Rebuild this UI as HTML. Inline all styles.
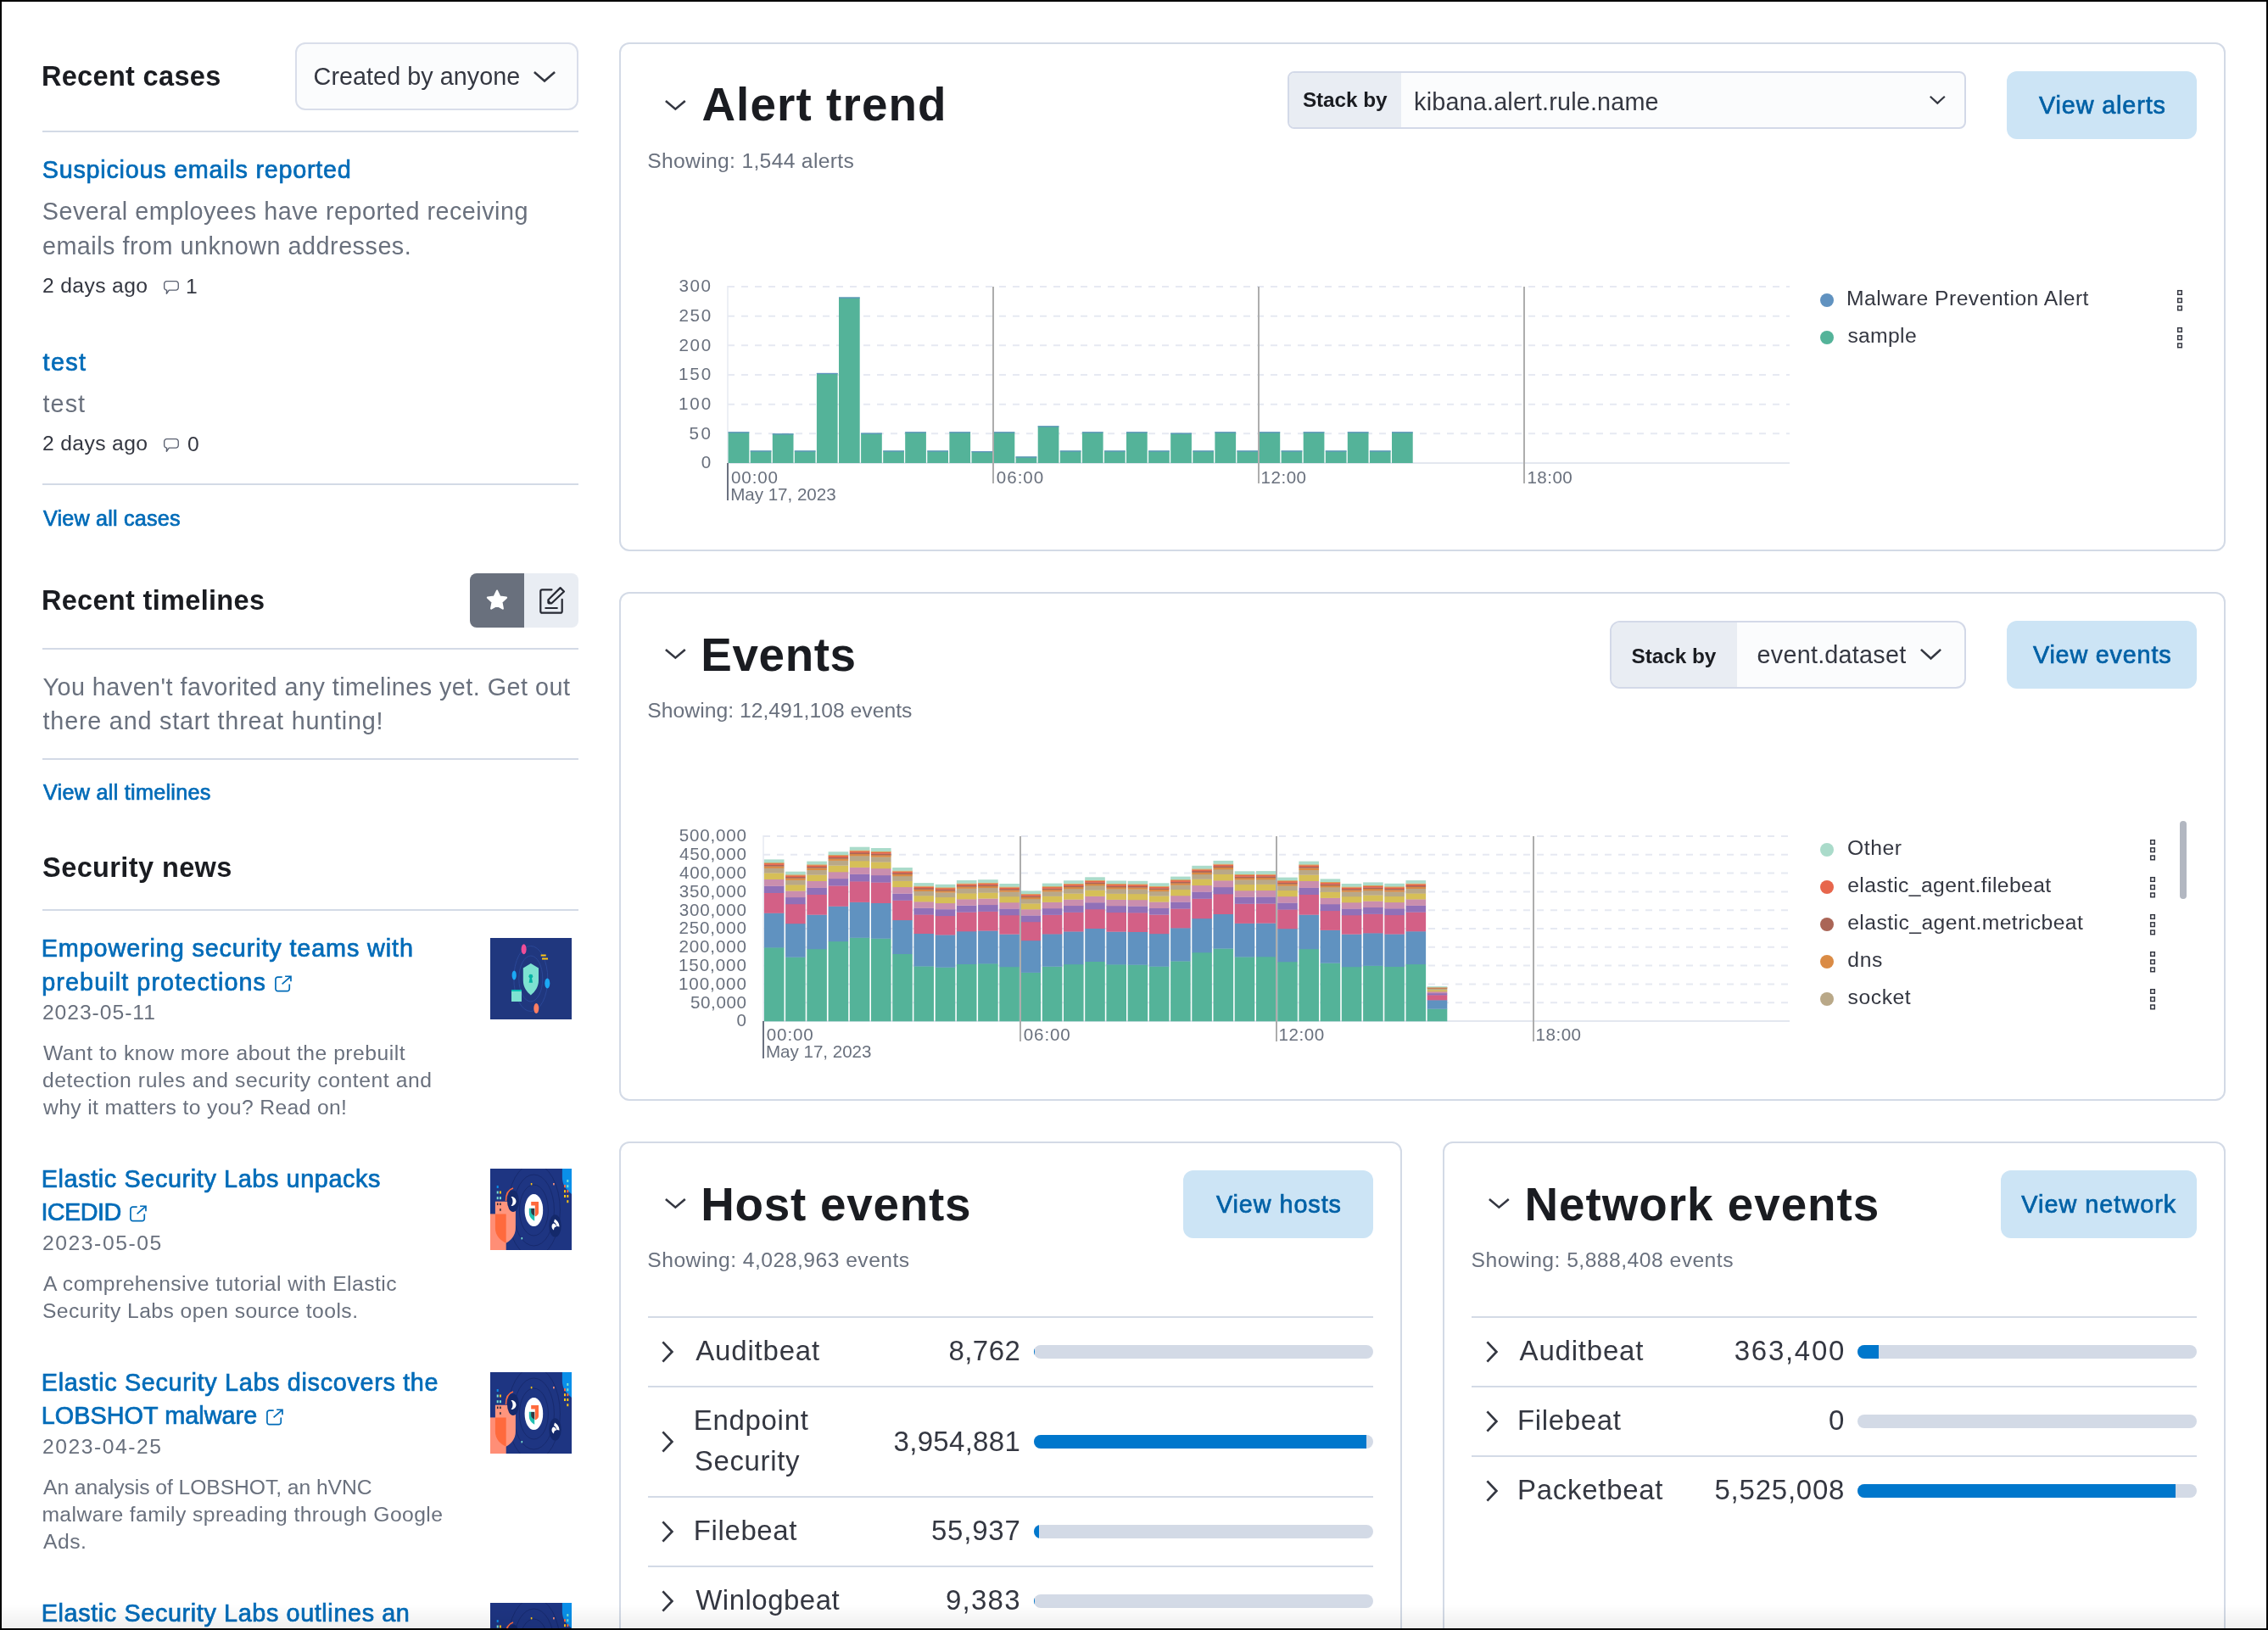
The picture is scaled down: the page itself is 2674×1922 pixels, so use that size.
<!DOCTYPE html>
<html lang="en"><head><meta charset="utf-8"><title>Security Overview</title>
<style>
html,body{margin:0;padding:0}
body{width:2674px;height:1922px;overflow:hidden;position:relative;background:#fff;font-family:"Liberation Sans",sans-serif;}
#root{position:absolute;left:0;top:0;width:2674px;height:1922px;will-change:transform}
.a{position:absolute;display:block}
.t{position:absolute;white-space:nowrap;line-height:1;display:block}
#frame{position:absolute;left:0;top:0;width:2674px;height:1922px;box-sizing:border-box;border:2px solid #000;z-index:10;pointer-events:none}
#fade{position:absolute;left:2px;top:1892px;width:2670px;height:28px;background:linear-gradient(to bottom,rgba(0,0,0,0),rgba(0,0,0,0.062));z-index:9}
</style></head>
<body>
<div id="root">
<span class="t" style="top:74px;font-size:32.5px;color:#1a1c21;font-weight:700;left:48.9px;letter-spacing:0.33px;">Recent cases</span>
<div class="a" style="left:348px;top:50px;width:334px;height:80px;box-sizing:border-box;border:2px solid #d9deea;border-radius:12px;background:#fbfcfd"></div>
<span class="t" style="top:76px;font-size:28.8px;color:#343741;left:369.6px;letter-spacing:0.02px;">Created by anyone</span>
<svg class="a" style="left:627px;top:81.6px" width="30" height="17" viewBox="0 0 30 17"><path d="M2.91 2.91L15 13.44L27.09 2.91" fill="none" stroke="#343741" stroke-width="2.6" stroke-linejoin="miter"/></svg>
<div class="a" style="left:50px;top:154px;width:632px;height:2px;background:#d3dae6;"></div>
<span class="t" style="top:186px;font-size:28.8px;color:#006bb8;-webkit-text-stroke:0.7px #006bb8;left:49.8px;letter-spacing:0.73px;">Suspicious emails reported</span>
<span class="t" style="top:235px;font-size:28.8px;color:#69707d;left:49.8px;letter-spacing:0.47px;">Several employees have reported receiving</span>
<span class="t" style="top:276px;font-size:28.8px;color:#69707d;left:49.9px;letter-spacing:0.48px;">emails from unknown addresses.</span>
<span class="t" style="top:325px;font-size:24.7px;color:#343741;left:49.9px;letter-spacing:0.37px;">2 days ago</span>
<svg class="a" style="left:192px;top:329.5px" width="20" height="18" viewBox="0 0 20 18"><path d="M4.650 1.550H15.250a3 3 0 0 1 3 3V9.050a3 3 0 0 1-3 3H7.300L4.300 16.300L4.700 12.050H4.650a3 3 0 0 1-3-3V4.550a3 3 0 0 1 3-3z" fill="none" stroke="#5a6070" stroke-width="1.350" stroke-linejoin="round"/></svg>
<span class="t" style="top:326px;font-size:24.7px;color:#343741;left:219.1px;">1</span>
<span class="t" style="top:413px;font-size:28.8px;color:#006bb8;-webkit-text-stroke:0.7px #006bb8;left:50.6px;letter-spacing:1.36px;">test</span>
<span class="t" style="top:462px;font-size:28.8px;color:#69707d;left:50.6px;letter-spacing:1.02px;">test</span>
<span class="t" style="top:511px;font-size:24.7px;color:#343741;left:49.9px;letter-spacing:0.37px;">2 days ago</span>
<svg class="a" style="left:192px;top:515.5px" width="20" height="18" viewBox="0 0 20 18"><path d="M4.650 1.550H15.250a3 3 0 0 1 3 3V9.050a3 3 0 0 1-3 3H7.300L4.300 16.300L4.700 12.050H4.650a3 3 0 0 1-3-3V4.550a3 3 0 0 1 3-3z" fill="none" stroke="#5a6070" stroke-width="1.350" stroke-linejoin="round"/></svg>
<span class="t" style="top:512px;font-size:24.7px;color:#343741;left:221.1px;">0</span>
<div class="a" style="left:50px;top:570px;width:632px;height:2px;background:#d3dae6;"></div>
<span class="t" style="top:599px;font-size:25.2px;color:#006bb8;-webkit-text-stroke:0.7px #006bb8;left:51.0px;letter-spacing:0.19px;">View all cases</span>
<span class="t" style="top:692px;font-size:32.5px;color:#1a1c21;font-weight:700;left:48.9px;letter-spacing:0.32px;">Recent timelines</span>
<div class="a" style="left:554px;top:676px;width:64px;height:64px;background:#69707d;border-radius:8px 0 0 8px;"></div>
<div class="a" style="left:618px;top:676px;width:64px;height:64px;background:#e9edf3;border-radius:0 8px 8px 0;"></div>
<svg class="a" style="left:570px;top:692px" width="32" height="32" viewBox="0 0 32 32"><path d="M16 4.6l3.35 7.0 7.7 1.0-5.65 5.35 1.45 7.65L16 21.9l-6.85 3.7 1.45-7.65L4.95 12.6l7.7-1.0z" fill="#fff" stroke="#fff" stroke-width="2.2" stroke-linejoin="round"/></svg>
<svg class="a" style="left:634px;top:690px" width="34" height="36" viewBox="0 0 34 36"><path d="M16.5 5.3H5.3a2 2 0 0 0-2 2v23.4a2 2 0 0 0 2 2h21.4a2 2 0 0 0 2-2V16.8" fill="none" stroke="#262933" stroke-width="2.2" stroke-linecap="round"/><path d="M9.3 27h13.5" stroke="#262933" stroke-width="2.2" stroke-linecap="round"/><path d="M26.6 3.1l4.4 4.4-14.6 13.8h-3.2a.8.8 0 0 1-.8-.8v-3.3z" fill="none" stroke="#262933" stroke-width="2.2" stroke-linejoin="round"/><path d="M12.8 17.6l3.4 3.4h-3.4z" fill="#262933"/></svg>
<div class="a" style="left:50px;top:764px;width:632px;height:2px;background:#d3dae6;"></div>
<span class="t" style="top:796px;font-size:28.8px;color:#69707d;left:50.4px;letter-spacing:0.46px;">You haven't favorited any timelines yet. Get out</span>
<span class="t" style="top:836px;font-size:28.8px;color:#69707d;left:50.6px;letter-spacing:0.77px;">there and start threat hunting!</span>
<div class="a" style="left:50px;top:894px;width:632px;height:2px;background:#d3dae6;"></div>
<span class="t" style="top:922px;font-size:25.2px;color:#006bb8;-webkit-text-stroke:0.7px #006bb8;left:51.0px;letter-spacing:0.27px;">View all timelines</span>
<span class="t" style="top:1007px;font-size:32.5px;color:#1a1c21;font-weight:700;left:50.1px;letter-spacing:0.39px;">Security news</span>
<div class="a" style="left:50px;top:1072px;width:632px;height:2px;background:#d3dae6;"></div>
<span class="t" style="top:1104px;font-size:28.8px;color:#006bb8;-webkit-text-stroke:0.7px #006bb8;left:48.8px;letter-spacing:0.87px;">Empowering security teams with</span>
<span class="t" style="top:1144px;font-size:28.8px;color:#006bb8;-webkit-text-stroke:0.7px #006bb8;left:49.2px;letter-spacing:1.08px;">prebuilt protections</span>
<svg class="a" style="left:323px;top:1148.5px" width="22" height="22" viewBox="0 0 22 22"><path d="M9.700 3.150H4.550a2.600 2.600 0 0 0-2.600 2.600V17.050a2.600 2.600 0 0 0 2.600 2.600H15.650a2.600 2.600 0 0 0 2.600-2.600V11.500" fill="none" stroke="#006bb8" stroke-width="1.700"/><path d="M9.600 11.400L19.500 2.700M13.100 2.250H19.950V8.300" fill="none" stroke="#006bb8" stroke-width="1.700"/></svg>
<span class="t" style="top:1182px;font-size:24.7px;color:#69707d;left:49.9px;letter-spacing:0.95px;">2023-05-11</span>
<span class="t" style="top:1230px;font-size:24.7px;color:#69707d;left:51.0px;letter-spacing:0.49px;">Want to know more about the prebuilt</span>
<span class="t" style="top:1262px;font-size:24.7px;color:#69707d;left:50.0px;letter-spacing:0.58px;">detection rules and security content and</span>
<span class="t" style="top:1294px;font-size:24.7px;color:#69707d;left:51.0px;letter-spacing:0.36px;">why it matters to you? Read on!</span>
<svg class="a" style="left:578px;top:1106px" width="96" height="96" viewBox="0 0 96 96"><rect width="96" height="96" fill="#20377e"/><ellipse cx="47.8" cy="48" rx="14" ry="27" fill="none" stroke="#2a4797" stroke-width="1"/><ellipse cx="47.8" cy="48" rx="20" ry="38.5" fill="none" stroke="#2a4797" stroke-width="1"/><path d="M47.8 29.9L57 35.5V50c0 8-4.5 13.5-9.2 17.4C43 63.500 38.800 58 38.800 50V35.500z" fill="#7de2d1"/><circle cx="47.800" cy="45.200" r="2.400" fill="#00b3a4"/><path d="M46.800 46.200h2l1.200 6.500h-4.400z" fill="#00b3a4"/><ellipse cx="39.600" cy="13.200" rx="3" ry="6" fill="#f04e98"/><ellipse cx="28.200" cy="43.900" rx="2.600" ry="5.500" fill="#1ba9f5"/><ellipse cx="67.300" cy="53.600" rx="3" ry="6" fill="#1ba9f5"/><ellipse cx="54.300" cy="83" rx="3" ry="6" fill="#ff7e62"/><rect x="25" y="61" width="12" height="14" fill="#7de2d1"/><rect x="25" y="61" width="12" height="2" fill="#00bfb3"/><rect x="59.700" y="19.500" width="6" height="2" fill="#fec514"/><rect x="61" y="23.500" width="7" height="2" fill="#fec514"/></svg>
<span class="t" style="top:1376px;font-size:28.8px;color:#006bb8;-webkit-text-stroke:0.7px #006bb8;left:48.8px;letter-spacing:0.61px;">Elastic Security Labs unpacks</span>
<span class="t" style="top:1415px;font-size:28.8px;color:#006bb8;-webkit-text-stroke:0.7px #006bb8;left:48.4px;letter-spacing:-0.56px;">ICEDID</span>
<svg class="a" style="left:152.4px;top:1420.1px" width="22" height="22" viewBox="0 0 22 22"><path d="M9.700 3.150H4.550a2.600 2.600 0 0 0-2.600 2.600V17.050a2.600 2.600 0 0 0 2.600 2.600H15.650a2.600 2.600 0 0 0 2.600-2.600V11.500" fill="none" stroke="#006bb8" stroke-width="1.700"/><path d="M9.600 11.400L19.500 2.700M13.100 2.250H19.950V8.300" fill="none" stroke="#006bb8" stroke-width="1.700"/></svg>
<span class="t" style="top:1454px;font-size:24.7px;color:#69707d;left:49.9px;letter-spacing:1.57px;">2023-05-05</span>
<span class="t" style="top:1502px;font-size:24.7px;color:#69707d;left:51.0px;letter-spacing:0.44px;">A comprehensive tutorial with Elastic</span>
<span class="t" style="top:1534px;font-size:24.7px;color:#69707d;left:49.9px;letter-spacing:0.45px;">Security Labs open source tools.</span>
<svg class="a" style="left:578px;top:1378px" width="96" height="96" viewBox="0 0 96 96"><rect width="96" height="96" fill="#1e3582"/><ellipse cx="51.400" cy="49" rx="17" ry="30" fill="none" stroke="#172a6e" stroke-width="1"/><ellipse cx="51.400" cy="49" rx="24" ry="42" fill="none" stroke="#172a6e" stroke-width="1"/><ellipse cx="51.400" cy="49" rx="31" ry="55" fill="none" stroke="#172a6e" stroke-width="1"/><path d="M84.900 0H96V30C90 25 84.900 20 84.900 10z" fill="#0a8fe9"/><rect x="0" y="53.400" width="18.700" height="42.600" fill="#ff8e76"/><path d="M5.900 38.700H29.900V70C29.900 79 24 85 18.700 87.800C12 85 5.900 79 5.900 70z" fill="#ff957d"/><path d="M5.900 53.400H18.700V87.800C12 85 5.900 79 5.900 70z" fill="#ff6a3d"/><path d="M18.500 38C18.500 30 22 24.500 27 23" fill="none" stroke="#ff6a3d" stroke-width="1.600"/><ellipse cx="27" cy="38.300" rx="7" ry="12.800" fill="#14296b"/><path d="M24.500 33c3 0 6 2 6 5.500s-3 5.500-6 5.500c1.500-2 2-3.500 2-5.500s-.500-3.500-2-5.500z" fill="#fff"/><ellipse cx="51.400" cy="49" rx="10.800" ry="19" fill="#fff"/><path d="M48.200 39H57V52c0 2-2 3.800-4.200 4.600V43.500H48.200z" fill="#ff6a3d"/><path d="M45.800 46.700h6.400V61.800C48 59.500 45.800 56 45.800 52z" fill="#1fbfb1"/><path d="M48.200 47h4V55.800C50 54.500 48.200 53 48.200 51z" fill="#343741"/><ellipse cx="76.500" cy="67.400" rx="7.200" ry="13.200" fill="#14296b"/><path d="M76 59.500c3 1.500 5.500 5 5.500 9l-3-.500c-.500-2.500-1.500-4-3.500-5zM74.500 64.500c2 .500 3.500 2 3.500 4-2 0-3 1.500-3 4-1.500-1-2.500-2.500-2.500-4.500s1-3 2-3.500z" fill="#fff"/><rect x="7.700" y="20" width="2" height="3" fill="#0a8fe9"/><rect x="7.700" y="26.500" width="2" height="3" fill="#7de2d1"/><rect x="10.900" y="26.500" width="2" height="3" fill="#fec514"/><rect x="7.700" y="33.200" width="2" height="3" fill="#7de2d1"/><rect x="10.900" y="33.200" width="2" height="3" fill="#7de2d1"/><rect x="7.900" y="40.500" width="1.600" height="2.600" fill="#2b2b3b"/><rect x="11.100" y="40.500" width="1.600" height="2.600" fill="#2b2b3b"/><rect x="11.100" y="47.200" width="1.600" height="2.600" fill="#2b2b3b"/><rect x="90.300" y="13" width="2" height="3" fill="#7de2d1"/><rect x="87" y="19.200" width="2" height="3" fill="#ff6a3d"/><rect x="90.300" y="19.200" width="2" height="3" fill="#7de2d1"/><rect x="87" y="25.200" width="2" height="3" fill="#fec514"/><rect x="90.300" y="25.200" width="2" height="3" fill="#ff6a3d"/><rect x="87" y="31" width="2" height="3" fill="#fec514"/><rect x="90.300" y="31" width="2" height="3" fill="#fec514"/><rect x="90.300" y="37.200" width="2" height="3" fill="#fec514"/><rect x="47.800" y="17" width="1.600" height="2.400" fill="#fec514"/><rect x="74.100" y="17" width="1.600" height="2.400" fill="#ff957d"/><rect x="36.500" y="81" width="1.600" height="2.400" fill="#7de2d1"/></svg>
<span class="t" style="top:1616px;font-size:28.8px;color:#006bb8;-webkit-text-stroke:0.7px #006bb8;left:48.8px;letter-spacing:0.67px;">Elastic Security Labs discovers the</span>
<span class="t" style="top:1655px;font-size:28.8px;color:#006bb8;-webkit-text-stroke:0.7px #006bb8;left:48.8px;letter-spacing:0.04px;">LOBSHOT malware</span>
<svg class="a" style="left:312.9px;top:1660.1px" width="22" height="22" viewBox="0 0 22 22"><path d="M9.700 3.150H4.550a2.600 2.600 0 0 0-2.600 2.600V17.050a2.600 2.600 0 0 0 2.600 2.600H15.650a2.600 2.600 0 0 0 2.600-2.600V11.500" fill="none" stroke="#006bb8" stroke-width="1.700"/><path d="M9.600 11.400L19.500 2.700M13.100 2.250H19.950V8.300" fill="none" stroke="#006bb8" stroke-width="1.700"/></svg>
<span class="t" style="top:1694px;font-size:24.7px;color:#69707d;left:49.9px;letter-spacing:1.54px;">2023-04-25</span>
<span class="t" style="top:1742px;font-size:24.7px;color:#69707d;left:51.0px;letter-spacing:-0.07px;">An analysis of LOBSHOT, an hVNC</span>
<span class="t" style="top:1774px;font-size:24.7px;color:#69707d;left:49.4px;letter-spacing:0.41px;">malware family spreading through Google</span>
<span class="t" style="top:1806px;font-size:24.7px;color:#69707d;left:51.0px;letter-spacing:0.52px;">Ads.</span>
<svg class="a" style="left:578px;top:1618px" width="96" height="96" viewBox="0 0 96 96"><rect width="96" height="96" fill="#1e3582"/><ellipse cx="51.400" cy="49" rx="17" ry="30" fill="none" stroke="#172a6e" stroke-width="1"/><ellipse cx="51.400" cy="49" rx="24" ry="42" fill="none" stroke="#172a6e" stroke-width="1"/><ellipse cx="51.400" cy="49" rx="31" ry="55" fill="none" stroke="#172a6e" stroke-width="1"/><path d="M84.900 0H96V30C90 25 84.900 20 84.900 10z" fill="#0a8fe9"/><rect x="0" y="53.400" width="18.700" height="42.600" fill="#ff8e76"/><path d="M5.900 38.700H29.900V70C29.900 79 24 85 18.700 87.800C12 85 5.900 79 5.900 70z" fill="#ff957d"/><path d="M5.900 53.400H18.700V87.800C12 85 5.900 79 5.900 70z" fill="#ff6a3d"/><path d="M18.500 38C18.500 30 22 24.500 27 23" fill="none" stroke="#ff6a3d" stroke-width="1.600"/><ellipse cx="27" cy="38.300" rx="7" ry="12.800" fill="#14296b"/><path d="M24.500 33c3 0 6 2 6 5.500s-3 5.500-6 5.500c1.500-2 2-3.500 2-5.500s-.500-3.500-2-5.500z" fill="#fff"/><ellipse cx="51.400" cy="49" rx="10.800" ry="19" fill="#fff"/><path d="M48.200 39H57V52c0 2-2 3.800-4.200 4.600V43.500H48.200z" fill="#ff6a3d"/><path d="M45.800 46.700h6.400V61.800C48 59.500 45.800 56 45.800 52z" fill="#1fbfb1"/><path d="M48.200 47h4V55.800C50 54.500 48.200 53 48.200 51z" fill="#343741"/><ellipse cx="76.500" cy="67.400" rx="7.200" ry="13.200" fill="#14296b"/><path d="M76 59.500c3 1.500 5.500 5 5.500 9l-3-.500c-.500-2.500-1.500-4-3.500-5zM74.500 64.500c2 .500 3.500 2 3.500 4-2 0-3 1.500-3 4-1.500-1-2.500-2.500-2.500-4.500s1-3 2-3.500z" fill="#fff"/><rect x="7.700" y="20" width="2" height="3" fill="#0a8fe9"/><rect x="7.700" y="26.500" width="2" height="3" fill="#7de2d1"/><rect x="10.900" y="26.500" width="2" height="3" fill="#fec514"/><rect x="7.700" y="33.200" width="2" height="3" fill="#7de2d1"/><rect x="10.900" y="33.200" width="2" height="3" fill="#7de2d1"/><rect x="7.900" y="40.500" width="1.600" height="2.600" fill="#2b2b3b"/><rect x="11.100" y="40.500" width="1.600" height="2.600" fill="#2b2b3b"/><rect x="11.100" y="47.200" width="1.600" height="2.600" fill="#2b2b3b"/><rect x="90.300" y="13" width="2" height="3" fill="#7de2d1"/><rect x="87" y="19.200" width="2" height="3" fill="#ff6a3d"/><rect x="90.300" y="19.200" width="2" height="3" fill="#7de2d1"/><rect x="87" y="25.200" width="2" height="3" fill="#fec514"/><rect x="90.300" y="25.200" width="2" height="3" fill="#ff6a3d"/><rect x="87" y="31" width="2" height="3" fill="#fec514"/><rect x="90.300" y="31" width="2" height="3" fill="#fec514"/><rect x="90.300" y="37.200" width="2" height="3" fill="#fec514"/><rect x="47.800" y="17" width="1.600" height="2.400" fill="#fec514"/><rect x="74.100" y="17" width="1.600" height="2.400" fill="#ff957d"/><rect x="36.500" y="81" width="1.600" height="2.400" fill="#7de2d1"/></svg>
<span class="t" style="top:1888px;font-size:28.8px;color:#006bb8;-webkit-text-stroke:0.7px #006bb8;left:48.8px;letter-spacing:0.61px;">Elastic Security Labs outlines an</span>
<svg class="a" style="left:578px;top:1890px" width="96" height="96" viewBox="0 0 96 96"><rect width="96" height="96" fill="#1e3582"/><ellipse cx="51.400" cy="49" rx="17" ry="30" fill="none" stroke="#172a6e" stroke-width="1"/><ellipse cx="51.400" cy="49" rx="24" ry="42" fill="none" stroke="#172a6e" stroke-width="1"/><ellipse cx="51.400" cy="49" rx="31" ry="55" fill="none" stroke="#172a6e" stroke-width="1"/><path d="M84.900 0H96V30C90 25 84.900 20 84.900 10z" fill="#0a8fe9"/><rect x="0" y="53.400" width="18.700" height="42.600" fill="#ff8e76"/><path d="M5.900 38.700H29.900V70C29.900 79 24 85 18.700 87.800C12 85 5.900 79 5.900 70z" fill="#ff957d"/><path d="M5.900 53.400H18.700V87.800C12 85 5.900 79 5.900 70z" fill="#ff6a3d"/><path d="M18.500 38C18.500 30 22 24.500 27 23" fill="none" stroke="#ff6a3d" stroke-width="1.600"/><ellipse cx="27" cy="38.300" rx="7" ry="12.800" fill="#14296b"/><path d="M24.500 33c3 0 6 2 6 5.500s-3 5.500-6 5.500c1.500-2 2-3.500 2-5.500s-.500-3.500-2-5.500z" fill="#fff"/><ellipse cx="51.400" cy="49" rx="10.800" ry="19" fill="#fff"/><path d="M48.200 39H57V52c0 2-2 3.800-4.200 4.600V43.500H48.200z" fill="#ff6a3d"/><path d="M45.800 46.700h6.400V61.800C48 59.500 45.800 56 45.800 52z" fill="#1fbfb1"/><path d="M48.200 47h4V55.800C50 54.500 48.200 53 48.200 51z" fill="#343741"/><ellipse cx="76.500" cy="67.400" rx="7.200" ry="13.200" fill="#14296b"/><path d="M76 59.500c3 1.500 5.500 5 5.500 9l-3-.500c-.500-2.500-1.500-4-3.500-5zM74.500 64.500c2 .500 3.500 2 3.500 4-2 0-3 1.500-3 4-1.500-1-2.500-2.500-2.500-4.500s1-3 2-3.500z" fill="#fff"/><rect x="7.700" y="20" width="2" height="3" fill="#0a8fe9"/><rect x="7.700" y="26.500" width="2" height="3" fill="#7de2d1"/><rect x="10.900" y="26.500" width="2" height="3" fill="#fec514"/><rect x="7.700" y="33.200" width="2" height="3" fill="#7de2d1"/><rect x="10.900" y="33.200" width="2" height="3" fill="#7de2d1"/><rect x="7.900" y="40.500" width="1.600" height="2.600" fill="#2b2b3b"/><rect x="11.100" y="40.500" width="1.600" height="2.600" fill="#2b2b3b"/><rect x="11.100" y="47.200" width="1.600" height="2.600" fill="#2b2b3b"/><rect x="90.300" y="13" width="2" height="3" fill="#7de2d1"/><rect x="87" y="19.200" width="2" height="3" fill="#ff6a3d"/><rect x="90.300" y="19.200" width="2" height="3" fill="#7de2d1"/><rect x="87" y="25.200" width="2" height="3" fill="#fec514"/><rect x="90.300" y="25.200" width="2" height="3" fill="#ff6a3d"/><rect x="87" y="31" width="2" height="3" fill="#fec514"/><rect x="90.300" y="31" width="2" height="3" fill="#fec514"/><rect x="90.300" y="37.200" width="2" height="3" fill="#fec514"/><rect x="47.800" y="17" width="1.600" height="2.400" fill="#fec514"/><rect x="74.100" y="17" width="1.600" height="2.400" fill="#ff957d"/><rect x="36.500" y="81" width="1.600" height="2.400" fill="#7de2d1"/></svg>
<div class="a" style="left:730px;top:50px;width:1894px;height:600px;box-sizing:border-box;border:2px solid #d3dae6;border-radius:12px;background:#fff"></div>
<svg class="a" style="left:781.7px;top:115.8px" width="28.7" height="16.2" viewBox="0 0 28.7 16.2"><path d="M2.91 2.91L14.35 12.64L25.79 2.91" fill="none" stroke="#343741" stroke-width="2.6" stroke-linejoin="miter"/></svg>
<span class="t" style="top:96px;font-size:54.8px;color:#1a1c21;font-weight:700;left:827.4px;letter-spacing:1.11px;">Alert trend</span>
<span class="t" style="top:178px;font-size:24.7px;color:#69707d;left:763.3px;letter-spacing:0.30px;">Showing: 1,544 alerts</span>
<div class="a" style="left:1518px;top:84px;width:800px;height:68px;box-sizing:border-box;border:2px solid #d3d9e8;border-radius:8px;background:#fbfcfd;overflow:hidden"><div style="position:absolute;left:0;top:0;bottom:0;width:132px;background:#e9edf3"></div></div>
<span class="t" style="top:106px;font-size:24.4px;color:#1a1c21;font-weight:700;left:1535.9px;letter-spacing:-0.09px;">Stack by</span>
<span class="t" style="top:106px;font-size:28.8px;color:#343741;left:1667.1px;letter-spacing:0.17px;">kibana.alert.rule.name</span>
<svg class="a" style="left:2273px;top:111px" width="22.6" height="14" viewBox="0 0 22.6 14"><path d="M2.77 2.77L11.3 10.68L19.83 2.77" fill="none" stroke="#343741" stroke-width="2.2" stroke-linejoin="miter"/></svg>
<div class="a" style="left:2366px;top:84px;width:224px;height:80px;background:#cce4f5;border-radius:12px;"></div>
<span class="t" style="top:110px;font-size:28.8px;color:#0061a6;-webkit-text-stroke:0.7px #0061a6;left:2403.9px;letter-spacing:0.88px;">View alerts</span>
<div class="a" style="left:857px;top:337px;width:2px;height:209px;background:#eceff5;"></div>
<svg class="a" style="left:858px;top:0" width="1252" height="1922" viewBox="0 0 1252 1922"><line x1="0" y1="338" x2="1252" y2="338" stroke="#e6e9f2" stroke-width="2" stroke-dasharray="8 8"/><line x1="0" y1="372.667" x2="1252" y2="372.667" stroke="#e6e9f2" stroke-width="2" stroke-dasharray="8 8"/><line x1="0" y1="407.333" x2="1252" y2="407.333" stroke="#e6e9f2" stroke-width="2" stroke-dasharray="8 8"/><line x1="0" y1="442" x2="1252" y2="442" stroke="#e6e9f2" stroke-width="2" stroke-dasharray="8 8"/><line x1="0" y1="476.667" x2="1252" y2="476.667" stroke="#e6e9f2" stroke-width="2" stroke-dasharray="8 8"/><line x1="0" y1="511.333" x2="1252" y2="511.333" stroke="#e6e9f2" stroke-width="2" stroke-dasharray="8 8"/></svg>
<div class="a" style="left:858px;top:545px;width:1252px;height:2px;background:#e3e7ef;"></div>
<span class="t" style="top:327px;font-size:20.6px;color:#69707d;left:800.6px;letter-spacing:1.55px;">300</span>
<span class="t" style="top:362px;font-size:20.6px;color:#69707d;left:800.4px;letter-spacing:1.67px;">250</span>
<span class="t" style="top:397px;font-size:20.6px;color:#69707d;left:800.4px;letter-spacing:1.67px;">200</span>
<span class="t" style="top:431px;font-size:20.6px;color:#69707d;left:799.9px;letter-spacing:1.92px;">150</span>
<span class="t" style="top:466px;font-size:20.6px;color:#69707d;left:799.9px;letter-spacing:1.92px;">100</span>
<span class="t" style="top:501px;font-size:20.6px;color:#69707d;left:812.6px;letter-spacing:2.55px;">50</span>
<span class="t" style="top:535px;font-size:20.6px;color:#69707d;left:826.7px;">0</span>
<svg class="a" style="left:850px;top:330px" width="840" height="220" viewBox="850 330 840 220"><rect x="858.6" y="509.3" width="24.700" height="36.7" fill="#54b399"/><rect x="858.6" y="509.3" width="24.700" height="1.200" fill="#6092c0"/><rect x="884.7" y="531.4" width="24.700" height="14.6" fill="#54b399"/><rect x="884.7" y="531.4" width="24.700" height="1.200" fill="#6092c0"/><rect x="910.8" y="511.3" width="24.700" height="34.7" fill="#54b399"/><rect x="910.8" y="511.3" width="24.700" height="1.200" fill="#6092c0"/><rect x="936.8" y="531.4" width="24.700" height="14.6" fill="#54b399"/><rect x="936.8" y="531.4" width="24.700" height="1.200" fill="#6092c0"/><rect x="962.9" y="439.9" width="24.700" height="106.1" fill="#54b399"/><rect x="962.9" y="439.9" width="24.700" height="1.200" fill="#6092c0"/><rect x="989.0" y="350.5" width="24.700" height="195.5" fill="#54b399"/><rect x="989.0" y="350.5" width="24.700" height="1.200" fill="#6092c0"/><rect x="1015.1" y="510.6" width="24.700" height="35.4" fill="#54b399"/><rect x="1015.1" y="510.6" width="24.700" height="1.200" fill="#6092c0"/><rect x="1041.2" y="531.4" width="24.700" height="14.6" fill="#54b399"/><rect x="1041.2" y="531.4" width="24.700" height="1.200" fill="#6092c0"/><rect x="1067.2" y="509.3" width="24.700" height="36.7" fill="#54b399"/><rect x="1067.2" y="509.3" width="24.700" height="1.200" fill="#6092c0"/><rect x="1093.3" y="531.4" width="24.700" height="14.6" fill="#54b399"/><rect x="1093.3" y="531.4" width="24.700" height="1.200" fill="#6092c0"/><rect x="1119.4" y="509.3" width="24.700" height="36.7" fill="#54b399"/><rect x="1119.4" y="509.3" width="24.700" height="1.200" fill="#6092c0"/><rect x="1145.5" y="532.1" width="24.700" height="13.9" fill="#54b399"/><rect x="1145.5" y="532.1" width="24.700" height="1.200" fill="#6092c0"/><rect x="1171.6" y="509.3" width="24.700" height="36.7" fill="#54b399"/><rect x="1171.6" y="509.3" width="24.700" height="1.200" fill="#6092c0"/><rect x="1197.6" y="538.4" width="24.700" height="7.6" fill="#54b399"/><rect x="1197.6" y="538.4" width="24.700" height="1.200" fill="#6092c0"/><rect x="1223.7" y="502.3" width="24.700" height="43.7" fill="#54b399"/><rect x="1223.7" y="502.3" width="24.700" height="1.200" fill="#6092c0"/><rect x="1249.8" y="531.4" width="24.700" height="14.6" fill="#54b399"/><rect x="1249.8" y="531.4" width="24.700" height="1.200" fill="#6092c0"/><rect x="1275.9" y="509.3" width="24.700" height="36.7" fill="#54b399"/><rect x="1275.9" y="509.3" width="24.700" height="1.200" fill="#6092c0"/><rect x="1302.0" y="531.4" width="24.700" height="14.6" fill="#54b399"/><rect x="1302.0" y="531.4" width="24.700" height="1.200" fill="#6092c0"/><rect x="1328.0" y="509.3" width="24.700" height="36.7" fill="#54b399"/><rect x="1328.0" y="509.3" width="24.700" height="1.200" fill="#6092c0"/><rect x="1354.1" y="531.4" width="24.700" height="14.6" fill="#54b399"/><rect x="1354.1" y="531.4" width="24.700" height="1.200" fill="#6092c0"/><rect x="1380.2" y="510.6" width="24.700" height="35.4" fill="#54b399"/><rect x="1380.2" y="510.6" width="24.700" height="1.200" fill="#6092c0"/><rect x="1406.3" y="531.4" width="24.700" height="14.6" fill="#54b399"/><rect x="1406.3" y="531.4" width="24.700" height="1.200" fill="#6092c0"/><rect x="1432.4" y="509.3" width="24.700" height="36.7" fill="#54b399"/><rect x="1432.4" y="509.3" width="24.700" height="1.200" fill="#6092c0"/><rect x="1458.4" y="531.4" width="24.700" height="14.6" fill="#54b399"/><rect x="1458.4" y="531.4" width="24.700" height="1.200" fill="#6092c0"/><rect x="1484.5" y="509.3" width="24.700" height="36.7" fill="#54b399"/><rect x="1484.5" y="509.3" width="24.700" height="1.200" fill="#6092c0"/><rect x="1510.6" y="531.4" width="24.700" height="14.6" fill="#54b399"/><rect x="1510.6" y="531.4" width="24.700" height="1.200" fill="#6092c0"/><rect x="1536.7" y="509.3" width="24.700" height="36.7" fill="#54b399"/><rect x="1536.7" y="509.3" width="24.700" height="1.200" fill="#6092c0"/><rect x="1562.8" y="531.4" width="24.700" height="14.6" fill="#54b399"/><rect x="1562.8" y="531.4" width="24.700" height="1.200" fill="#6092c0"/><rect x="1588.8" y="509.3" width="24.700" height="36.7" fill="#54b399"/><rect x="1588.8" y="509.3" width="24.700" height="1.200" fill="#6092c0"/><rect x="1614.9" y="531.4" width="24.700" height="14.6" fill="#54b399"/><rect x="1614.9" y="531.4" width="24.700" height="1.200" fill="#6092c0"/><rect x="1641.0" y="509.3" width="24.700" height="36.7" fill="#54b399"/><rect x="1641.0" y="509.3" width="24.700" height="1.200" fill="#6092c0"/></svg>
<div class="a" style="left:1170px;top:338px;width:2px;height:232px;background:#adadad;"></div>
<div class="a" style="left:1483px;top:338px;width:2px;height:232px;background:#adadad;"></div>
<div class="a" style="left:1796px;top:338px;width:2px;height:232px;background:#adadad;"></div>
<div class="a" style="left:857px;top:546px;width:2px;height:44px;background:#6b7180;"></div>
<span class="t" style="top:553px;font-size:20.6px;color:#69707d;left:862.0px;letter-spacing:0.86px;">00:00</span>
<span class="t" style="top:553px;font-size:20.6px;color:#69707d;left:1174.8px;letter-spacing:0.98px;">06:00</span>
<span class="t" style="top:553px;font-size:20.6px;color:#69707d;left:1486.6px;letter-spacing:0.47px;">12:00</span>
<span class="t" style="top:553px;font-size:20.6px;color:#69707d;left:1800.5px;letter-spacing:0.42px;">18:00</span>
<span class="t" style="top:573px;font-size:20.6px;color:#69707d;left:861.2px;letter-spacing:-0.03px;">May 17, 2023</span>
<div class="a" style="left:2146px;top:345.8px;width:16px;height:16px;background:#6092c0;border-radius:50%;"></div>
<span class="t" style="top:340px;font-size:24.7px;color:#343741;left:2177.0px;letter-spacing:0.48px;">Malware Prevention Alert</span>
<svg class="a" style="left:2566px;top:341.3px" width="8" height="26" viewBox="0 0 8 26"><rect x="1.700" y="1.7" width="4.600" height="4.600" fill="none" stroke="#343741" stroke-width="1.500"/><rect x="1.700" y="10.9" width="4.600" height="4.600" fill="none" stroke="#343741" stroke-width="1.500"/><rect x="1.700" y="20.1" width="4.600" height="4.600" fill="none" stroke="#343741" stroke-width="1.500"/></svg>
<div class="a" style="left:2146px;top:389.6px;width:16px;height:16px;background:#54b399;border-radius:50%;"></div>
<span class="t" style="top:384px;font-size:24.7px;color:#343741;left:2178.4px;letter-spacing:0.33px;">sample</span>
<svg class="a" style="left:2566px;top:385.1px" width="8" height="26" viewBox="0 0 8 26"><rect x="1.700" y="1.7" width="4.600" height="4.600" fill="none" stroke="#343741" stroke-width="1.500"/><rect x="1.700" y="10.9" width="4.600" height="4.600" fill="none" stroke="#343741" stroke-width="1.500"/><rect x="1.700" y="20.1" width="4.600" height="4.600" fill="none" stroke="#343741" stroke-width="1.500"/></svg>
<div class="a" style="left:730px;top:698px;width:1894px;height:600px;box-sizing:border-box;border:2px solid #d3dae6;border-radius:12px;background:#fff"></div>
<svg class="a" style="left:781.7px;top:763px" width="28.7" height="16.2" viewBox="0 0 28.7 16.2"><path d="M2.91 2.91L14.35 12.64L25.79 2.91" fill="none" stroke="#343741" stroke-width="2.6" stroke-linejoin="miter"/></svg>
<span class="t" style="top:745px;font-size:54.8px;color:#1a1c21;font-weight:700;left:826.3px;letter-spacing:0.62px;">Events</span>
<span class="t" style="top:826px;font-size:24.7px;color:#69707d;left:763.3px;letter-spacing:0.02px;">Showing: 12,491,108 events</span>
<div class="a" style="left:1898px;top:732px;width:420px;height:80px;box-sizing:border-box;border:2px solid #d3d9e8;border-radius:12px;background:#fbfcfd;overflow:hidden"><div style="position:absolute;left:0;top:0;bottom:0;width:148px;background:#e9edf3"></div></div>
<span class="t" style="top:762px;font-size:24.4px;color:#1a1c21;font-weight:700;left:1923.6px;letter-spacing:-0.09px;">Stack by</span>
<span class="t" style="top:758px;font-size:28.8px;color:#343741;left:2071.6px;letter-spacing:0.22px;">event.dataset</span>
<svg class="a" style="left:2262px;top:763.3px" width="29" height="17" viewBox="0 0 29 17"><path d="M2.91 2.91L14.5 13.44L26.09 2.91" fill="none" stroke="#343741" stroke-width="2.6" stroke-linejoin="miter"/></svg>
<div class="a" style="left:2366px;top:732px;width:224px;height:80px;background:#cce4f5;border-radius:12px;"></div>
<span class="t" style="top:758px;font-size:28.8px;color:#0061a6;-webkit-text-stroke:0.7px #0061a6;left:2396.9px;letter-spacing:0.80px;">View events</span>
<div class="a" style="left:899px;top:985px;width:2px;height:219px;background:#eceff5;"></div>
<svg class="a" style="left:900px;top:0" width="1210" height="1922" viewBox="0 0 1210 1922"><line x1="0" y1="986" x2="1210" y2="986" stroke="#e6e9f2" stroke-width="2" stroke-dasharray="8 8"/><line x1="0" y1="1007.8" x2="1210" y2="1007.8" stroke="#e6e9f2" stroke-width="2" stroke-dasharray="8 8"/><line x1="0" y1="1029.6" x2="1210" y2="1029.6" stroke="#e6e9f2" stroke-width="2" stroke-dasharray="8 8"/><line x1="0" y1="1051.4" x2="1210" y2="1051.4" stroke="#e6e9f2" stroke-width="2" stroke-dasharray="8 8"/><line x1="0" y1="1073.2" x2="1210" y2="1073.2" stroke="#e6e9f2" stroke-width="2" stroke-dasharray="8 8"/><line x1="0" y1="1095" x2="1210" y2="1095" stroke="#e6e9f2" stroke-width="2" stroke-dasharray="8 8"/><line x1="0" y1="1116.8" x2="1210" y2="1116.8" stroke="#e6e9f2" stroke-width="2" stroke-dasharray="8 8"/><line x1="0" y1="1138.6" x2="1210" y2="1138.6" stroke="#e6e9f2" stroke-width="2" stroke-dasharray="8 8"/><line x1="0" y1="1160.4" x2="1210" y2="1160.4" stroke="#e6e9f2" stroke-width="2" stroke-dasharray="8 8"/><line x1="0" y1="1182.2" x2="1210" y2="1182.2" stroke="#e6e9f2" stroke-width="2" stroke-dasharray="8 8"/></svg>
<div class="a" style="left:900px;top:1203px;width:1210px;height:2px;background:#e3e7ef;"></div>
<span class="t" style="top:975px;font-size:20.6px;color:#69707d;left:800.8px;letter-spacing:0.79px;">500,000</span>
<span class="t" style="top:997px;font-size:20.6px;color:#69707d;left:801.1px;letter-spacing:0.72px;">450,000</span>
<span class="t" style="top:1019px;font-size:20.6px;color:#69707d;left:801.1px;letter-spacing:0.72px;">400,000</span>
<span class="t" style="top:1041px;font-size:20.6px;color:#69707d;left:800.8px;letter-spacing:0.79px;">350,000</span>
<span class="t" style="top:1063px;font-size:20.6px;color:#69707d;left:800.8px;letter-spacing:0.79px;">300,000</span>
<span class="t" style="top:1084px;font-size:20.6px;color:#69707d;left:800.5px;letter-spacing:0.83px;">250,000</span>
<span class="t" style="top:1106px;font-size:20.6px;color:#69707d;left:800.5px;letter-spacing:0.83px;">200,000</span>
<span class="t" style="top:1128px;font-size:20.6px;color:#69707d;left:800.0px;letter-spacing:0.91px;">150,000</span>
<span class="t" style="top:1150px;font-size:20.6px;color:#69707d;left:800.0px;letter-spacing:0.91px;">100,000</span>
<span class="t" style="top:1172px;font-size:20.6px;color:#69707d;left:814.0px;letter-spacing:0.59px;">50,000</span>
<span class="t" style="top:1193px;font-size:20.6px;color:#69707d;left:868.5px;">0</span>
<svg class="a" style="left:890px;top:980px" width="830" height="226" viewBox="890 980 830 226"><rect x="900.9" y="1117.1" width="23.600" height="87.2" fill="#54b399"/><rect x="900.9" y="1076.4" width="23.600" height="41.0" fill="#6092c0"/><rect x="900.9" y="1052.7" width="23.600" height="24.1" fill="#d36086"/><rect x="900.9" y="1044.5" width="23.600" height="8.5" fill="#9170b8"/><rect x="900.9" y="1036.7" width="23.600" height="8.1" fill="#ca8eae"/><rect x="900.9" y="1029.3" width="23.600" height="7.7" fill="#d6bf57"/><rect x="900.9" y="1023.5" width="23.600" height="6.0" fill="#b9a888"/><rect x="900.9" y="1021.3" width="23.600" height="2.6" fill="#da8b45"/><rect x="900.9" y="1019.7" width="23.600" height="1.9" fill="#aa6556"/><rect x="900.9" y="1017.9" width="23.600" height="2.0" fill="#e7664c"/><rect x="900.9" y="1016.9" width="23.600" height="1.3" fill="#d6a35b"/><rect x="900.9" y="1013.4" width="23.600" height="3.8" fill="#aadbca"/><rect x="926.1" y="1128.5" width="23.600" height="75.8" fill="#54b399"/><rect x="926.1" y="1089.0" width="23.600" height="39.8" fill="#6092c0"/><rect x="926.1" y="1065.8" width="23.600" height="23.4" fill="#d36086"/><rect x="926.1" y="1057.9" width="23.600" height="8.3" fill="#9170b8"/><rect x="926.1" y="1050.3" width="23.600" height="7.9" fill="#ca8eae"/><rect x="926.1" y="1043.1" width="23.600" height="7.5" fill="#d6bf57"/><rect x="926.1" y="1037.6" width="23.600" height="5.9" fill="#b9a888"/><rect x="926.1" y="1035.4" width="23.600" height="2.5" fill="#da8b45"/><rect x="926.1" y="1033.8" width="23.600" height="1.9" fill="#aa6556"/><rect x="926.1" y="1032.1" width="23.600" height="2.0" fill="#e7664c"/><rect x="926.1" y="1031.1" width="23.600" height="1.3" fill="#d6a35b"/><rect x="926.1" y="1027.7" width="23.600" height="3.7" fill="#aadbca"/><rect x="951.3" y="1118.9" width="23.600" height="85.4" fill="#54b399"/><rect x="951.3" y="1078.4" width="23.600" height="40.8" fill="#6092c0"/><rect x="951.3" y="1054.7" width="23.600" height="24.0" fill="#d36086"/><rect x="951.3" y="1046.5" width="23.600" height="8.5" fill="#9170b8"/><rect x="951.3" y="1038.8" width="23.600" height="8.1" fill="#ca8eae"/><rect x="951.3" y="1031.4" width="23.600" height="7.6" fill="#d6bf57"/><rect x="951.3" y="1025.7" width="23.600" height="6.0" fill="#b9a888"/><rect x="951.3" y="1023.5" width="23.600" height="2.5" fill="#da8b45"/><rect x="951.3" y="1021.8" width="23.600" height="1.9" fill="#aa6556"/><rect x="951.3" y="1020.1" width="23.600" height="2.0" fill="#e7664c"/><rect x="951.3" y="1019.1" width="23.600" height="1.3" fill="#d6a35b"/><rect x="951.3" y="1015.6" width="23.600" height="3.8" fill="#aadbca"/><rect x="976.6" y="1109.9" width="23.600" height="94.4" fill="#54b399"/><rect x="976.6" y="1068.5" width="23.600" height="41.7" fill="#6092c0"/><rect x="976.6" y="1044.3" width="23.600" height="24.5" fill="#d36086"/><rect x="976.6" y="1035.9" width="23.600" height="8.6" fill="#9170b8"/><rect x="976.6" y="1028.0" width="23.600" height="8.2" fill="#ca8eae"/><rect x="976.6" y="1020.5" width="23.600" height="7.8" fill="#d6bf57"/><rect x="976.6" y="1014.6" width="23.600" height="6.1" fill="#b9a888"/><rect x="976.6" y="1012.3" width="23.600" height="2.6" fill="#da8b45"/><rect x="976.6" y="1010.7" width="23.600" height="2.0" fill="#aa6556"/><rect x="976.6" y="1008.9" width="23.600" height="2.1" fill="#e7664c"/><rect x="976.6" y="1007.8" width="23.600" height="1.3" fill="#d6a35b"/><rect x="976.6" y="1004.3" width="23.600" height="3.8" fill="#aadbca"/><rect x="1001.8" y="1105.4" width="23.600" height="98.9" fill="#54b399"/><rect x="1001.8" y="1063.6" width="23.600" height="42.2" fill="#6092c0"/><rect x="1001.8" y="1039.1" width="23.600" height="24.8" fill="#d36086"/><rect x="1001.8" y="1030.7" width="23.600" height="8.7" fill="#9170b8"/><rect x="1001.8" y="1022.6" width="23.600" height="8.3" fill="#ca8eae"/><rect x="1001.8" y="1015.0" width="23.600" height="7.9" fill="#d6bf57"/><rect x="1001.8" y="1009.1" width="23.600" height="6.2" fill="#b9a888"/><rect x="1001.8" y="1006.8" width="23.600" height="2.6" fill="#da8b45"/><rect x="1001.8" y="1005.1" width="23.600" height="2.0" fill="#aa6556"/><rect x="1001.8" y="1003.3" width="23.600" height="2.1" fill="#e7664c"/><rect x="1001.8" y="1002.3" width="23.600" height="1.4" fill="#d6a35b"/><rect x="1001.8" y="998.7" width="23.600" height="3.9" fill="#aadbca"/><rect x="1027.0" y="1106.5" width="23.600" height="97.8" fill="#54b399"/><rect x="1027.0" y="1064.7" width="23.600" height="42.1" fill="#6092c0"/><rect x="1027.0" y="1040.3" width="23.600" height="24.7" fill="#d36086"/><rect x="1027.0" y="1031.9" width="23.600" height="8.7" fill="#9170b8"/><rect x="1027.0" y="1023.9" width="23.600" height="8.3" fill="#ca8eae"/><rect x="1027.0" y="1016.3" width="23.600" height="7.9" fill="#d6bf57"/><rect x="1027.0" y="1010.4" width="23.600" height="6.2" fill="#b9a888"/><rect x="1027.0" y="1008.1" width="23.600" height="2.6" fill="#da8b45"/><rect x="1027.0" y="1006.4" width="23.600" height="2.0" fill="#aa6556"/><rect x="1027.0" y="1004.6" width="23.600" height="2.1" fill="#e7664c"/><rect x="1027.0" y="1003.6" width="23.600" height="1.4" fill="#d6a35b"/><rect x="1027.0" y="1000.0" width="23.600" height="3.9" fill="#aadbca"/><rect x="1052.2" y="1124.8" width="23.600" height="79.5" fill="#54b399"/><rect x="1052.2" y="1084.8" width="23.600" height="40.2" fill="#6092c0"/><rect x="1052.2" y="1061.5" width="23.600" height="23.6" fill="#d36086"/><rect x="1052.2" y="1053.5" width="23.600" height="8.3" fill="#9170b8"/><rect x="1052.2" y="1045.8" width="23.600" height="7.9" fill="#ca8eae"/><rect x="1052.2" y="1038.6" width="23.600" height="7.5" fill="#d6bf57"/><rect x="1052.2" y="1033.0" width="23.600" height="5.9" fill="#b9a888"/><rect x="1052.2" y="1030.7" width="23.600" height="2.5" fill="#da8b45"/><rect x="1052.2" y="1029.1" width="23.600" height="1.9" fill="#aa6556"/><rect x="1052.2" y="1027.4" width="23.600" height="2.0" fill="#e7664c"/><rect x="1052.2" y="1026.4" width="23.600" height="1.3" fill="#d6a35b"/><rect x="1052.2" y="1023.0" width="23.600" height="3.7" fill="#aadbca"/><rect x="1077.4" y="1139.2" width="23.600" height="65.1" fill="#54b399"/><rect x="1077.4" y="1100.7" width="23.600" height="38.8" fill="#6092c0"/><rect x="1077.4" y="1078.2" width="23.600" height="22.8" fill="#d36086"/><rect x="1077.4" y="1070.5" width="23.600" height="8.1" fill="#9170b8"/><rect x="1077.4" y="1063.1" width="23.600" height="7.7" fill="#ca8eae"/><rect x="1077.4" y="1056.1" width="23.600" height="7.3" fill="#d6bf57"/><rect x="1077.4" y="1050.7" width="23.600" height="5.7" fill="#b9a888"/><rect x="1077.4" y="1048.6" width="23.600" height="2.4" fill="#da8b45"/><rect x="1077.4" y="1047.0" width="23.600" height="1.9" fill="#aa6556"/><rect x="1077.4" y="1045.4" width="23.600" height="1.9" fill="#e7664c"/><rect x="1077.4" y="1044.4" width="23.600" height="1.3" fill="#d6a35b"/><rect x="1077.4" y="1041.1" width="23.600" height="3.6" fill="#aadbca"/><rect x="1102.7" y="1140.5" width="23.600" height="63.8" fill="#54b399"/><rect x="1102.7" y="1102.2" width="23.600" height="38.6" fill="#6092c0"/><rect x="1102.7" y="1079.8" width="23.600" height="22.7" fill="#d36086"/><rect x="1102.7" y="1072.1" width="23.600" height="8.0" fill="#9170b8"/><rect x="1102.7" y="1064.7" width="23.600" height="7.6" fill="#ca8eae"/><rect x="1102.7" y="1057.8" width="23.600" height="7.3" fill="#d6bf57"/><rect x="1102.7" y="1052.4" width="23.600" height="5.7" fill="#b9a888"/><rect x="1102.7" y="1050.2" width="23.600" height="2.4" fill="#da8b45"/><rect x="1102.7" y="1048.7" width="23.600" height="1.8" fill="#aa6556"/><rect x="1102.7" y="1047.0" width="23.600" height="1.9" fill="#e7664c"/><rect x="1102.7" y="1046.1" width="23.600" height="1.3" fill="#d6a35b"/><rect x="1102.7" y="1042.8" width="23.600" height="3.6" fill="#aadbca"/><rect x="1127.9" y="1136.7" width="23.600" height="67.6" fill="#54b399"/><rect x="1127.9" y="1098.0" width="23.600" height="39.0" fill="#6092c0"/><rect x="1127.9" y="1075.4" width="23.600" height="22.9" fill="#d36086"/><rect x="1127.9" y="1067.6" width="23.600" height="8.1" fill="#9170b8"/><rect x="1127.9" y="1060.1" width="23.600" height="7.7" fill="#ca8eae"/><rect x="1127.9" y="1053.1" width="23.600" height="7.3" fill="#d6bf57"/><rect x="1127.9" y="1047.7" width="23.600" height="5.8" fill="#b9a888"/><rect x="1127.9" y="1045.5" width="23.600" height="2.4" fill="#da8b45"/><rect x="1127.9" y="1043.9" width="23.600" height="1.9" fill="#aa6556"/><rect x="1127.9" y="1042.3" width="23.600" height="2.0" fill="#e7664c"/><rect x="1127.9" y="1041.3" width="23.600" height="1.3" fill="#d6a35b"/><rect x="1127.9" y="1038.0" width="23.600" height="3.6" fill="#aadbca"/><rect x="1153.1" y="1136.1" width="23.600" height="68.2" fill="#54b399"/><rect x="1153.1" y="1097.3" width="23.600" height="39.1" fill="#6092c0"/><rect x="1153.1" y="1074.6" width="23.600" height="23.0" fill="#d36086"/><rect x="1153.1" y="1066.8" width="23.600" height="8.1" fill="#9170b8"/><rect x="1153.1" y="1059.4" width="23.600" height="7.7" fill="#ca8eae"/><rect x="1153.1" y="1052.3" width="23.600" height="7.3" fill="#d6bf57"/><rect x="1153.1" y="1046.9" width="23.600" height="5.8" fill="#b9a888"/><rect x="1153.1" y="1044.7" width="23.600" height="2.4" fill="#da8b45"/><rect x="1153.1" y="1043.2" width="23.600" height="1.9" fill="#aa6556"/><rect x="1153.1" y="1041.5" width="23.600" height="2.0" fill="#e7664c"/><rect x="1153.1" y="1040.5" width="23.600" height="1.3" fill="#d6a35b"/><rect x="1153.1" y="1037.2" width="23.600" height="3.6" fill="#aadbca"/><rect x="1178.3" y="1139.9" width="23.600" height="64.4" fill="#54b399"/><rect x="1178.3" y="1101.5" width="23.600" height="38.7" fill="#6092c0"/><rect x="1178.3" y="1079.0" width="23.600" height="22.7" fill="#d36086"/><rect x="1178.3" y="1071.3" width="23.600" height="8.0" fill="#9170b8"/><rect x="1178.3" y="1064.0" width="23.600" height="7.7" fill="#ca8eae"/><rect x="1178.3" y="1057.0" width="23.600" height="7.3" fill="#d6bf57"/><rect x="1178.3" y="1051.6" width="23.600" height="5.7" fill="#b9a888"/><rect x="1178.3" y="1049.4" width="23.600" height="2.4" fill="#da8b45"/><rect x="1178.3" y="1047.9" width="23.600" height="1.8" fill="#aa6556"/><rect x="1178.3" y="1046.3" width="23.600" height="1.9" fill="#e7664c"/><rect x="1178.3" y="1045.3" width="23.600" height="1.3" fill="#d6a35b"/><rect x="1178.3" y="1042.0" width="23.600" height="3.6" fill="#aadbca"/><rect x="1203.5" y="1146.6" width="23.600" height="57.7" fill="#54b399"/><rect x="1203.5" y="1108.9" width="23.600" height="38.0" fill="#6092c0"/><rect x="1203.5" y="1086.9" width="23.600" height="22.3" fill="#d36086"/><rect x="1203.5" y="1079.3" width="23.600" height="7.9" fill="#9170b8"/><rect x="1203.5" y="1072.1" width="23.600" height="7.5" fill="#ca8eae"/><rect x="1203.5" y="1065.2" width="23.600" height="7.1" fill="#d6bf57"/><rect x="1203.5" y="1059.9" width="23.600" height="5.6" fill="#b9a888"/><rect x="1203.5" y="1057.8" width="23.600" height="2.4" fill="#da8b45"/><rect x="1203.5" y="1056.3" width="23.600" height="1.8" fill="#aa6556"/><rect x="1203.5" y="1054.7" width="23.600" height="1.9" fill="#e7664c"/><rect x="1203.5" y="1053.7" width="23.600" height="1.2" fill="#d6a35b"/><rect x="1203.5" y="1050.5" width="23.600" height="3.5" fill="#aadbca"/><rect x="1228.8" y="1139.6" width="23.600" height="64.7" fill="#54b399"/><rect x="1228.8" y="1101.1" width="23.600" height="38.7" fill="#6092c0"/><rect x="1228.8" y="1078.7" width="23.600" height="22.8" fill="#d36086"/><rect x="1228.8" y="1070.9" width="23.600" height="8.0" fill="#9170b8"/><rect x="1228.8" y="1063.6" width="23.600" height="7.7" fill="#ca8eae"/><rect x="1228.8" y="1056.6" width="23.600" height="7.3" fill="#d6bf57"/><rect x="1228.8" y="1051.2" width="23.600" height="5.7" fill="#b9a888"/><rect x="1228.8" y="1049.1" width="23.600" height="2.4" fill="#da8b45"/><rect x="1228.8" y="1047.5" width="23.600" height="1.8" fill="#aa6556"/><rect x="1228.8" y="1045.9" width="23.600" height="1.9" fill="#e7664c"/><rect x="1228.8" y="1044.9" width="23.600" height="1.3" fill="#d6a35b"/><rect x="1228.8" y="1041.6" width="23.600" height="3.6" fill="#aadbca"/><rect x="1254.0" y="1136.9" width="23.600" height="67.4" fill="#54b399"/><rect x="1254.0" y="1098.2" width="23.600" height="39.0" fill="#6092c0"/><rect x="1254.0" y="1075.6" width="23.600" height="22.9" fill="#d36086"/><rect x="1254.0" y="1067.8" width="23.600" height="8.1" fill="#9170b8"/><rect x="1254.0" y="1060.4" width="23.600" height="7.7" fill="#ca8eae"/><rect x="1254.0" y="1053.4" width="23.600" height="7.3" fill="#d6bf57"/><rect x="1254.0" y="1047.9" width="23.600" height="5.8" fill="#b9a888"/><rect x="1254.0" y="1045.8" width="23.600" height="2.4" fill="#da8b45"/><rect x="1254.0" y="1044.2" width="23.600" height="1.9" fill="#aa6556"/><rect x="1254.0" y="1042.6" width="23.600" height="2.0" fill="#e7664c"/><rect x="1254.0" y="1041.6" width="23.600" height="1.3" fill="#d6a35b"/><rect x="1254.0" y="1038.3" width="23.600" height="3.6" fill="#aadbca"/><rect x="1279.2" y="1133.8" width="23.600" height="70.5" fill="#54b399"/><rect x="1279.2" y="1094.7" width="23.600" height="39.3" fill="#6092c0"/><rect x="1279.2" y="1071.9" width="23.600" height="23.1" fill="#d36086"/><rect x="1279.2" y="1064.1" width="23.600" height="8.2" fill="#9170b8"/><rect x="1279.2" y="1056.6" width="23.600" height="7.8" fill="#ca8eae"/><rect x="1279.2" y="1049.5" width="23.600" height="7.4" fill="#d6bf57"/><rect x="1279.2" y="1044.0" width="23.600" height="5.8" fill="#b9a888"/><rect x="1279.2" y="1041.9" width="23.600" height="2.5" fill="#da8b45"/><rect x="1279.2" y="1040.3" width="23.600" height="1.9" fill="#aa6556"/><rect x="1279.2" y="1038.6" width="23.600" height="2.0" fill="#e7664c"/><rect x="1279.2" y="1037.6" width="23.600" height="1.3" fill="#d6a35b"/><rect x="1279.2" y="1034.3" width="23.600" height="3.6" fill="#aadbca"/><rect x="1304.4" y="1137.1" width="23.600" height="67.2" fill="#54b399"/><rect x="1304.4" y="1098.4" width="23.600" height="39.0" fill="#6092c0"/><rect x="1304.4" y="1075.8" width="23.600" height="22.9" fill="#d36086"/><rect x="1304.4" y="1068.0" width="23.600" height="8.1" fill="#9170b8"/><rect x="1304.4" y="1060.6" width="23.600" height="7.7" fill="#ca8eae"/><rect x="1304.4" y="1053.6" width="23.600" height="7.3" fill="#d6bf57"/><rect x="1304.4" y="1048.1" width="23.600" height="5.8" fill="#b9a888"/><rect x="1304.4" y="1046.0" width="23.600" height="2.4" fill="#da8b45"/><rect x="1304.4" y="1044.4" width="23.600" height="1.9" fill="#aa6556"/><rect x="1304.4" y="1042.8" width="23.600" height="2.0" fill="#e7664c"/><rect x="1304.4" y="1041.8" width="23.600" height="1.3" fill="#d6a35b"/><rect x="1304.4" y="1038.5" width="23.600" height="3.6" fill="#aadbca"/><rect x="1329.6" y="1137.3" width="23.600" height="67.0" fill="#54b399"/><rect x="1329.6" y="1098.7" width="23.600" height="39.0" fill="#6092c0"/><rect x="1329.6" y="1076.1" width="23.600" height="22.9" fill="#d36086"/><rect x="1329.6" y="1068.3" width="23.600" height="8.1" fill="#9170b8"/><rect x="1329.6" y="1060.9" width="23.600" height="7.7" fill="#ca8eae"/><rect x="1329.6" y="1053.9" width="23.600" height="7.3" fill="#d6bf57"/><rect x="1329.6" y="1048.4" width="23.600" height="5.8" fill="#b9a888"/><rect x="1329.6" y="1046.3" width="23.600" height="2.4" fill="#da8b45"/><rect x="1329.6" y="1044.7" width="23.600" height="1.9" fill="#aa6556"/><rect x="1329.6" y="1043.1" width="23.600" height="2.0" fill="#e7664c"/><rect x="1329.6" y="1042.1" width="23.600" height="1.3" fill="#d6a35b"/><rect x="1329.6" y="1038.8" width="23.600" height="3.6" fill="#aadbca"/><rect x="1354.9" y="1139.3" width="23.600" height="65.0" fill="#54b399"/><rect x="1354.9" y="1100.9" width="23.600" height="38.8" fill="#6092c0"/><rect x="1354.9" y="1078.4" width="23.600" height="22.8" fill="#d36086"/><rect x="1354.9" y="1070.6" width="23.600" height="8.0" fill="#9170b8"/><rect x="1354.9" y="1063.3" width="23.600" height="7.7" fill="#ca8eae"/><rect x="1354.9" y="1056.3" width="23.600" height="7.3" fill="#d6bf57"/><rect x="1354.9" y="1050.9" width="23.600" height="5.7" fill="#b9a888"/><rect x="1354.9" y="1048.8" width="23.600" height="2.4" fill="#da8b45"/><rect x="1354.9" y="1047.2" width="23.600" height="1.8" fill="#aa6556"/><rect x="1354.9" y="1045.6" width="23.600" height="1.9" fill="#e7664c"/><rect x="1354.9" y="1044.6" width="23.600" height="1.3" fill="#d6a35b"/><rect x="1354.9" y="1041.3" width="23.600" height="3.6" fill="#aadbca"/><rect x="1380.1" y="1133.2" width="23.600" height="71.1" fill="#54b399"/><rect x="1380.1" y="1094.1" width="23.600" height="39.4" fill="#6092c0"/><rect x="1380.1" y="1071.3" width="23.600" height="23.1" fill="#d36086"/><rect x="1380.1" y="1063.4" width="23.600" height="8.2" fill="#9170b8"/><rect x="1380.1" y="1055.9" width="23.600" height="7.8" fill="#ca8eae"/><rect x="1380.1" y="1048.9" width="23.600" height="7.4" fill="#d6bf57"/><rect x="1380.1" y="1043.3" width="23.600" height="5.8" fill="#b9a888"/><rect x="1380.1" y="1041.2" width="23.600" height="2.5" fill="#da8b45"/><rect x="1380.1" y="1039.6" width="23.600" height="1.9" fill="#aa6556"/><rect x="1380.1" y="1037.9" width="23.600" height="2.0" fill="#e7664c"/><rect x="1380.1" y="1036.9" width="23.600" height="1.3" fill="#d6a35b"/><rect x="1380.1" y="1033.6" width="23.600" height="3.6" fill="#aadbca"/><rect x="1405.3" y="1123.0" width="23.600" height="81.3" fill="#54b399"/><rect x="1405.3" y="1082.9" width="23.600" height="40.4" fill="#6092c0"/><rect x="1405.3" y="1059.5" width="23.600" height="23.7" fill="#d36086"/><rect x="1405.3" y="1051.4" width="23.600" height="8.4" fill="#9170b8"/><rect x="1405.3" y="1043.7" width="23.600" height="8.0" fill="#ca8eae"/><rect x="1405.3" y="1036.5" width="23.600" height="7.6" fill="#d6bf57"/><rect x="1405.3" y="1030.8" width="23.600" height="6.0" fill="#b9a888"/><rect x="1405.3" y="1028.6" width="23.600" height="2.5" fill="#da8b45"/><rect x="1405.3" y="1027.0" width="23.600" height="1.9" fill="#aa6556"/><rect x="1405.3" y="1025.2" width="23.600" height="2.0" fill="#e7664c"/><rect x="1405.3" y="1024.2" width="23.600" height="1.3" fill="#d6a35b"/><rect x="1405.3" y="1020.8" width="23.600" height="3.7" fill="#aadbca"/><rect x="1430.5" y="1118.3" width="23.600" height="86.0" fill="#54b399"/><rect x="1430.5" y="1077.7" width="23.600" height="40.9" fill="#6092c0"/><rect x="1430.5" y="1054.0" width="23.600" height="24.0" fill="#d36086"/><rect x="1430.5" y="1045.9" width="23.600" height="8.5" fill="#9170b8"/><rect x="1430.5" y="1038.1" width="23.600" height="8.1" fill="#ca8eae"/><rect x="1430.5" y="1030.7" width="23.600" height="7.7" fill="#d6bf57"/><rect x="1430.5" y="1025.0" width="23.600" height="6.0" fill="#b9a888"/><rect x="1430.5" y="1022.8" width="23.600" height="2.5" fill="#da8b45"/><rect x="1430.5" y="1021.1" width="23.600" height="1.9" fill="#aa6556"/><rect x="1430.5" y="1019.4" width="23.600" height="2.0" fill="#e7664c"/><rect x="1430.5" y="1018.4" width="23.600" height="1.3" fill="#d6a35b"/><rect x="1430.5" y="1014.9" width="23.600" height="3.8" fill="#aadbca"/><rect x="1455.7" y="1128.2" width="23.600" height="76.1" fill="#54b399"/><rect x="1455.7" y="1088.6" width="23.600" height="39.9" fill="#6092c0"/><rect x="1455.7" y="1065.5" width="23.600" height="23.4" fill="#d36086"/><rect x="1455.7" y="1057.5" width="23.600" height="8.3" fill="#9170b8"/><rect x="1455.7" y="1049.9" width="23.600" height="7.9" fill="#ca8eae"/><rect x="1455.7" y="1042.8" width="23.600" height="7.5" fill="#d6bf57"/><rect x="1455.7" y="1037.2" width="23.600" height="5.9" fill="#b9a888"/><rect x="1455.7" y="1035.0" width="23.600" height="2.5" fill="#da8b45"/><rect x="1455.7" y="1033.4" width="23.600" height="1.9" fill="#aa6556"/><rect x="1455.7" y="1031.7" width="23.600" height="2.0" fill="#e7664c"/><rect x="1455.7" y="1030.7" width="23.600" height="1.3" fill="#d6a35b"/><rect x="1455.7" y="1027.3" width="23.600" height="3.7" fill="#aadbca"/><rect x="1481.0" y="1128.0" width="23.600" height="76.3" fill="#54b399"/><rect x="1481.0" y="1088.4" width="23.600" height="39.9" fill="#6092c0"/><rect x="1481.0" y="1065.3" width="23.600" height="23.4" fill="#d36086"/><rect x="1481.0" y="1057.3" width="23.600" height="8.3" fill="#9170b8"/><rect x="1481.0" y="1049.7" width="23.600" height="7.9" fill="#ca8eae"/><rect x="1481.0" y="1042.6" width="23.600" height="7.5" fill="#d6bf57"/><rect x="1481.0" y="1037.0" width="23.600" height="5.9" fill="#b9a888"/><rect x="1481.0" y="1034.8" width="23.600" height="2.5" fill="#da8b45"/><rect x="1481.0" y="1033.2" width="23.600" height="1.9" fill="#aa6556"/><rect x="1481.0" y="1031.5" width="23.600" height="2.0" fill="#e7664c"/><rect x="1481.0" y="1030.5" width="23.600" height="1.3" fill="#d6a35b"/><rect x="1481.0" y="1027.1" width="23.600" height="3.7" fill="#aadbca"/><rect x="1506.2" y="1134.0" width="23.600" height="70.3" fill="#54b399"/><rect x="1506.2" y="1095.0" width="23.600" height="39.3" fill="#6092c0"/><rect x="1506.2" y="1072.2" width="23.600" height="23.1" fill="#d36086"/><rect x="1506.2" y="1064.4" width="23.600" height="8.2" fill="#9170b8"/><rect x="1506.2" y="1056.9" width="23.600" height="7.8" fill="#ca8eae"/><rect x="1506.2" y="1049.8" width="23.600" height="7.4" fill="#d6bf57"/><rect x="1506.2" y="1044.3" width="23.600" height="5.8" fill="#b9a888"/><rect x="1506.2" y="1042.2" width="23.600" height="2.5" fill="#da8b45"/><rect x="1506.2" y="1040.6" width="23.600" height="1.9" fill="#aa6556"/><rect x="1506.2" y="1038.9" width="23.600" height="2.0" fill="#e7664c"/><rect x="1506.2" y="1037.9" width="23.600" height="1.3" fill="#d6a35b"/><rect x="1506.2" y="1034.6" width="23.600" height="3.6" fill="#aadbca"/><rect x="1531.4" y="1118.9" width="23.600" height="85.4" fill="#54b399"/><rect x="1531.4" y="1078.4" width="23.600" height="40.8" fill="#6092c0"/><rect x="1531.4" y="1054.7" width="23.600" height="24.0" fill="#d36086"/><rect x="1531.4" y="1046.5" width="23.600" height="8.5" fill="#9170b8"/><rect x="1531.4" y="1038.8" width="23.600" height="8.1" fill="#ca8eae"/><rect x="1531.4" y="1031.4" width="23.600" height="7.6" fill="#d6bf57"/><rect x="1531.4" y="1025.7" width="23.600" height="6.0" fill="#b9a888"/><rect x="1531.4" y="1023.5" width="23.600" height="2.5" fill="#da8b45"/><rect x="1531.4" y="1021.8" width="23.600" height="1.9" fill="#aa6556"/><rect x="1531.4" y="1020.1" width="23.600" height="2.0" fill="#e7664c"/><rect x="1531.4" y="1019.1" width="23.600" height="1.3" fill="#d6a35b"/><rect x="1531.4" y="1015.6" width="23.600" height="3.8" fill="#aadbca"/><rect x="1556.6" y="1135.4" width="23.600" height="68.9" fill="#54b399"/><rect x="1556.6" y="1096.6" width="23.600" height="39.1" fill="#6092c0"/><rect x="1556.6" y="1073.9" width="23.600" height="23.0" fill="#d36086"/><rect x="1556.6" y="1066.0" width="23.600" height="8.1" fill="#9170b8"/><rect x="1556.6" y="1058.6" width="23.600" height="7.7" fill="#ca8eae"/><rect x="1556.6" y="1051.6" width="23.600" height="7.3" fill="#d6bf57"/><rect x="1556.6" y="1046.1" width="23.600" height="5.8" fill="#b9a888"/><rect x="1556.6" y="1043.9" width="23.600" height="2.5" fill="#da8b45"/><rect x="1556.6" y="1042.4" width="23.600" height="1.9" fill="#aa6556"/><rect x="1556.6" y="1040.7" width="23.600" height="2.0" fill="#e7664c"/><rect x="1556.6" y="1039.7" width="23.600" height="1.3" fill="#d6a35b"/><rect x="1556.6" y="1036.4" width="23.600" height="3.6" fill="#aadbca"/><rect x="1581.8" y="1139.9" width="23.600" height="64.4" fill="#54b399"/><rect x="1581.8" y="1101.5" width="23.600" height="38.7" fill="#6092c0"/><rect x="1581.8" y="1079.0" width="23.600" height="22.7" fill="#d36086"/><rect x="1581.8" y="1071.3" width="23.600" height="8.0" fill="#9170b8"/><rect x="1581.8" y="1064.0" width="23.600" height="7.7" fill="#ca8eae"/><rect x="1581.8" y="1057.0" width="23.600" height="7.3" fill="#d6bf57"/><rect x="1581.8" y="1051.6" width="23.600" height="5.7" fill="#b9a888"/><rect x="1581.8" y="1049.4" width="23.600" height="2.4" fill="#da8b45"/><rect x="1581.8" y="1047.9" width="23.600" height="1.8" fill="#aa6556"/><rect x="1581.8" y="1046.3" width="23.600" height="1.9" fill="#e7664c"/><rect x="1581.8" y="1045.3" width="23.600" height="1.3" fill="#d6a35b"/><rect x="1581.8" y="1042.0" width="23.600" height="3.6" fill="#aadbca"/><rect x="1607.1" y="1138.6" width="23.600" height="65.7" fill="#54b399"/><rect x="1607.1" y="1100.1" width="23.600" height="38.8" fill="#6092c0"/><rect x="1607.1" y="1077.6" width="23.600" height="22.8" fill="#d36086"/><rect x="1607.1" y="1069.8" width="23.600" height="8.1" fill="#9170b8"/><rect x="1607.1" y="1062.4" width="23.600" height="7.7" fill="#ca8eae"/><rect x="1607.1" y="1055.4" width="23.600" height="7.3" fill="#d6bf57"/><rect x="1607.1" y="1050.0" width="23.600" height="5.7" fill="#b9a888"/><rect x="1607.1" y="1047.9" width="23.600" height="2.4" fill="#da8b45"/><rect x="1607.1" y="1046.3" width="23.600" height="1.9" fill="#aa6556"/><rect x="1607.1" y="1044.7" width="23.600" height="1.9" fill="#e7664c"/><rect x="1607.1" y="1043.7" width="23.600" height="1.3" fill="#d6a35b"/><rect x="1607.1" y="1040.4" width="23.600" height="3.6" fill="#aadbca"/><rect x="1632.3" y="1139.7" width="23.600" height="64.6" fill="#54b399"/><rect x="1632.3" y="1101.3" width="23.600" height="38.7" fill="#6092c0"/><rect x="1632.3" y="1078.9" width="23.600" height="22.7" fill="#d36086"/><rect x="1632.3" y="1071.1" width="23.600" height="8.0" fill="#9170b8"/><rect x="1632.3" y="1063.8" width="23.600" height="7.7" fill="#ca8eae"/><rect x="1632.3" y="1056.8" width="23.600" height="7.3" fill="#d6bf57"/><rect x="1632.3" y="1051.4" width="23.600" height="5.7" fill="#b9a888"/><rect x="1632.3" y="1049.3" width="23.600" height="2.4" fill="#da8b45"/><rect x="1632.3" y="1047.7" width="23.600" height="1.8" fill="#aa6556"/><rect x="1632.3" y="1046.1" width="23.600" height="1.9" fill="#e7664c"/><rect x="1632.3" y="1045.1" width="23.600" height="1.3" fill="#d6a35b"/><rect x="1632.3" y="1041.8" width="23.600" height="3.6" fill="#aadbca"/><rect x="1657.5" y="1136.8" width="23.600" height="67.5" fill="#54b399"/><rect x="1657.5" y="1098.1" width="23.600" height="39.0" fill="#6092c0"/><rect x="1657.5" y="1075.4" width="23.600" height="22.9" fill="#d36086"/><rect x="1657.5" y="1067.6" width="23.600" height="8.1" fill="#9170b8"/><rect x="1657.5" y="1060.2" width="23.600" height="7.7" fill="#ca8eae"/><rect x="1657.5" y="1053.2" width="23.600" height="7.3" fill="#d6bf57"/><rect x="1657.5" y="1047.8" width="23.600" height="5.8" fill="#b9a888"/><rect x="1657.5" y="1045.6" width="23.600" height="2.4" fill="#da8b45"/><rect x="1657.5" y="1044.0" width="23.600" height="1.9" fill="#aa6556"/><rect x="1657.5" y="1042.4" width="23.600" height="2.0" fill="#e7664c"/><rect x="1657.5" y="1041.4" width="23.600" height="1.3" fill="#d6a35b"/><rect x="1657.5" y="1038.1" width="23.600" height="3.6" fill="#aadbca"/><rect x="1682.7" y="1189.4" width="23.600" height="14.9" fill="#54b399"/><rect x="1682.7" y="1179.1" width="23.600" height="10.6" fill="#6092c0"/><rect x="1682.7" y="1173.1" width="23.600" height="6.3" fill="#d36086"/><rect x="1682.7" y="1171.0" width="23.600" height="2.4" fill="#9170b8"/><rect x="1682.7" y="1169.0" width="23.600" height="2.3" fill="#ca8eae"/><rect x="1682.7" y="1167.1" width="23.600" height="2.2" fill="#d6bf57"/><rect x="1682.7" y="1165.7" width="23.600" height="1.8" fill="#b9a888"/><rect x="1682.7" y="1165.1" width="23.600" height="0.9" fill="#da8b45"/><rect x="1682.7" y="1164.7" width="23.600" height="0.7" fill="#aa6556"/><rect x="1682.7" y="1164.2" width="23.600" height="0.7" fill="#e7664c"/><rect x="1682.7" y="1164.0" width="23.600" height="0.6" fill="#d6a35b"/><rect x="1682.7" y="1163.1" width="23.600" height="1.2" fill="#aadbca"/></svg>
<div class="a" style="left:1201.5px;top:986px;width:2px;height:242px;background:#adadad;"></div>
<div class="a" style="left:1504px;top:986px;width:2px;height:242px;background:#adadad;"></div>
<div class="a" style="left:1806.5px;top:986px;width:2px;height:242px;background:#adadad;"></div>
<div class="a" style="left:899px;top:1204px;width:2px;height:44px;background:#6b7180;"></div>
<span class="t" style="top:1210px;font-size:20.6px;color:#69707d;left:903.8px;letter-spacing:0.86px;">00:00</span>
<span class="t" style="top:1210px;font-size:20.6px;color:#69707d;left:1206.8px;letter-spacing:0.86px;">06:00</span>
<span class="t" style="top:1210px;font-size:20.6px;color:#69707d;left:1507.5px;letter-spacing:0.54px;">12:00</span>
<span class="t" style="top:1210px;font-size:20.6px;color:#69707d;left:1810.6px;letter-spacing:0.47px;">18:00</span>
<span class="t" style="top:1230px;font-size:20.6px;color:#69707d;left:903.0px;letter-spacing:-0.03px;">May 17, 2023</span>
<div class="a" style="left:2146px;top:993.8px;width:16px;height:16px;background:#aadbca;border-radius:50%;"></div>
<span class="t" style="top:988px;font-size:24.7px;color:#343741;left:2178.1px;letter-spacing:0.51px;">Other</span>
<svg class="a" style="left:2534px;top:989.3px" width="8" height="26" viewBox="0 0 8 26"><rect x="1.700" y="1.7" width="4.600" height="4.600" fill="none" stroke="#343741" stroke-width="1.500"/><rect x="1.700" y="10.9" width="4.600" height="4.600" fill="none" stroke="#343741" stroke-width="1.500"/><rect x="1.700" y="20.1" width="4.600" height="4.600" fill="none" stroke="#343741" stroke-width="1.500"/></svg>
<div class="a" style="left:2146px;top:1037.83px;width:16px;height:16px;background:#e7664c;border-radius:50%;"></div>
<span class="t" style="top:1032px;font-size:24.7px;color:#343741;left:2178.2px;letter-spacing:0.38px;">elastic_agent.filebeat</span>
<svg class="a" style="left:2534px;top:1033.33px" width="8" height="26" viewBox="0 0 8 26"><rect x="1.700" y="1.7" width="4.600" height="4.600" fill="none" stroke="#343741" stroke-width="1.500"/><rect x="1.700" y="10.9" width="4.600" height="4.600" fill="none" stroke="#343741" stroke-width="1.500"/><rect x="1.700" y="20.1" width="4.600" height="4.600" fill="none" stroke="#343741" stroke-width="1.500"/></svg>
<div class="a" style="left:2146px;top:1081.86px;width:16px;height:16px;background:#aa6556;border-radius:50%;"></div>
<span class="t" style="top:1076px;font-size:24.7px;color:#343741;left:2178.2px;letter-spacing:0.44px;">elastic_agent.metricbeat</span>
<svg class="a" style="left:2534px;top:1077.36px" width="8" height="26" viewBox="0 0 8 26"><rect x="1.700" y="1.7" width="4.600" height="4.600" fill="none" stroke="#343741" stroke-width="1.500"/><rect x="1.700" y="10.9" width="4.600" height="4.600" fill="none" stroke="#343741" stroke-width="1.500"/><rect x="1.700" y="20.1" width="4.600" height="4.600" fill="none" stroke="#343741" stroke-width="1.500"/></svg>
<div class="a" style="left:2146px;top:1125.89px;width:16px;height:16px;background:#da8b45;border-radius:50%;"></div>
<span class="t" style="top:1120px;font-size:24.7px;color:#343741;left:2178.2px;letter-spacing:0.73px;">dns</span>
<svg class="a" style="left:2534px;top:1121.39px" width="8" height="26" viewBox="0 0 8 26"><rect x="1.700" y="1.7" width="4.600" height="4.600" fill="none" stroke="#343741" stroke-width="1.500"/><rect x="1.700" y="10.9" width="4.600" height="4.600" fill="none" stroke="#343741" stroke-width="1.500"/><rect x="1.700" y="20.1" width="4.600" height="4.600" fill="none" stroke="#343741" stroke-width="1.500"/></svg>
<div class="a" style="left:2146px;top:1169.92px;width:16px;height:16px;background:#b9a888;border-radius:50%;"></div>
<span class="t" style="top:1164px;font-size:24.7px;color:#343741;left:2178.6px;letter-spacing:0.54px;">socket</span>
<svg class="a" style="left:2534px;top:1165.42px" width="8" height="26" viewBox="0 0 8 26"><rect x="1.700" y="1.7" width="4.600" height="4.600" fill="none" stroke="#343741" stroke-width="1.500"/><rect x="1.700" y="10.9" width="4.600" height="4.600" fill="none" stroke="#343741" stroke-width="1.500"/><rect x="1.700" y="20.1" width="4.600" height="4.600" fill="none" stroke="#343741" stroke-width="1.500"/></svg>
<div class="a" style="left:2570px;top:968px;width:8px;height:92px;background:#b2b7c1;border-radius:4px;"></div>
<div class="a" style="left:730px;top:1346px;width:923px;height:640px;box-sizing:border-box;border:2px solid #d3dae6;border-radius:12px;background:#fff"></div>
<svg class="a" style="left:781.7px;top:1411.3px" width="28.7" height="16.2" viewBox="0 0 28.7 16.2"><path d="M2.91 2.91L14.35 12.64L25.79 2.91" fill="none" stroke="#343741" stroke-width="2.6" stroke-linejoin="miter"/></svg>
<span class="t" style="top:1393px;font-size:54.8px;color:#1a1c21;font-weight:700;left:826.3px;letter-spacing:0.75px;">Host events</span>
<span class="t" style="top:1474px;font-size:24.7px;color:#69707d;left:763.3px;letter-spacing:0.46px;">Showing: 4,028,963 events</span>
<div class="a" style="left:1395px;top:1380px;width:224px;height:80px;background:#cce4f5;border-radius:12px;"></div>
<span class="t" style="top:1406px;font-size:28.8px;color:#0061a6;-webkit-text-stroke:0.7px #0061a6;left:1433.9px;letter-spacing:0.93px;">View hosts</span>
<div class="a" style="left:764px;top:1552px;width:855px;height:2px;background:#d3dae6;"></div>
<div class="a" style="left:764px;top:1634px;width:855px;height:2px;background:#d3dae6;"></div>
<div class="a" style="left:764px;top:1764px;width:855px;height:2px;background:#d3dae6;"></div>
<div class="a" style="left:764px;top:1846px;width:855px;height:2px;background:#d3dae6;"></div>
<svg class="a" style="left:778.4px;top:1579.4px" width="18" height="30" viewBox="0 0 18 30"><path d="M3.400 3.400L14.400 15L3.400 26.600" fill="none" stroke="#343741" stroke-width="2.700"/></svg>
<span class="t" style="top:1576px;font-size:33px;color:#343741;left:820.3px;letter-spacing:0.80px;">Auditbeat</span>
<span class="t" style="top:1576px;font-size:33px;color:#343741;left:1118.5px;letter-spacing:0.42px;">8,762</span>
<div class="a" style="left:1219px;top:1586.4px;width:400px;height:16px;border-radius:8px;background:#d3dae6;overflow:hidden"><div style="width:0.8px;height:16px;background:#0077cc"></div></div>
<svg class="a" style="left:778.4px;top:1790.8px" width="18" height="30" viewBox="0 0 18 30"><path d="M3.400 3.400L14.400 15L3.400 26.600" fill="none" stroke="#343741" stroke-width="2.700"/></svg>
<span class="t" style="top:1788px;font-size:33px;color:#343741;left:817.7px;letter-spacing:0.63px;">Filebeat</span>
<span class="t" style="top:1788px;font-size:33px;color:#343741;left:1098.0px;letter-spacing:0.76px;">55,937</span>
<div class="a" style="left:1219px;top:1797.8px;width:400px;height:16px;border-radius:8px;background:#d3dae6;overflow:hidden"><div style="width:5.6px;height:16px;background:#0077cc"></div></div>
<svg class="a" style="left:778.4px;top:1873.2px" width="18" height="30" viewBox="0 0 18 30"><path d="M3.400 3.400L14.400 15L3.400 26.600" fill="none" stroke="#343741" stroke-width="2.700"/></svg>
<span class="t" style="top:1870px;font-size:33px;color:#343741;left:820.2px;letter-spacing:0.49px;">Winlogbeat</span>
<span class="t" style="top:1870px;font-size:33px;color:#343741;left:1114.9px;letter-spacing:1.26px;">9,383</span>
<div class="a" style="left:1219px;top:1880.2px;width:400px;height:16px;border-radius:8px;background:#d3dae6;overflow:hidden"><div style="width:0.8px;height:16px;background:#0077cc"></div></div>
<svg class="a" style="left:778.4px;top:1685.3px" width="18" height="30" viewBox="0 0 18 30"><path d="M3.400 3.400L14.400 15L3.400 26.600" fill="none" stroke="#343741" stroke-width="2.700"/></svg>
<span class="t" style="top:1658px;font-size:33px;color:#343741;left:817.7px;letter-spacing:0.70px;">Endpoint</span>
<span class="t" style="top:1706px;font-size:33px;color:#343741;left:818.8px;letter-spacing:0.65px;">Security</span>
<span class="t" style="top:1683px;font-size:33px;color:#343741;left:1053.5px;letter-spacing:0.31px;">3,954,881</span>
<div class="a" style="left:1219px;top:1692px;width:400px;height:16px;border-radius:8px;background:#d3dae6;overflow:hidden"><div style="width:392px;height:16px;background:#0077cc"></div></div>
<div class="a" style="left:1701px;top:1346px;width:923px;height:640px;box-sizing:border-box;border:2px solid #d3dae6;border-radius:12px;background:#fff"></div>
<svg class="a" style="left:1752.7px;top:1411.3px" width="28.7" height="16.2" viewBox="0 0 28.7 16.2"><path d="M2.91 2.91L14.35 12.64L25.79 2.91" fill="none" stroke="#343741" stroke-width="2.6" stroke-linejoin="miter"/></svg>
<span class="t" style="top:1393px;font-size:54.8px;color:#1a1c21;font-weight:700;left:1797.5px;letter-spacing:0.98px;">Network events</span>
<span class="t" style="top:1474px;font-size:24.7px;color:#69707d;left:1734.6px;letter-spacing:0.46px;">Showing: 5,888,408 events</span>
<div class="a" style="left:2359px;top:1380px;width:231px;height:80px;background:#cce4f5;border-radius:12px;"></div>
<span class="t" style="top:1406px;font-size:28.8px;color:#0061a6;-webkit-text-stroke:0.7px #0061a6;left:2383.3px;letter-spacing:1.02px;">View network</span>
<div class="a" style="left:1735px;top:1552px;width:855px;height:2px;background:#d3dae6;"></div>
<div class="a" style="left:1735px;top:1634px;width:855px;height:2px;background:#d3dae6;"></div>
<div class="a" style="left:1735px;top:1716px;width:855px;height:2px;background:#d3dae6;"></div>
<svg class="a" style="left:1749.6px;top:1579.4px" width="18" height="30" viewBox="0 0 18 30"><path d="M3.400 3.400L14.400 15L3.400 26.600" fill="none" stroke="#343741" stroke-width="2.700"/></svg>
<span class="t" style="top:1576px;font-size:33px;color:#343741;left:1791.6px;letter-spacing:0.80px;">Auditbeat</span>
<span class="t" style="top:1576px;font-size:33px;color:#343741;left:2044.8px;letter-spacing:1.70px;">363,400</span>
<div class="a" style="left:2190px;top:1586.4px;width:400px;height:16px;border-radius:8px;background:#d3dae6;overflow:hidden"><div style="width:24.8px;height:16px;background:#0077cc"></div></div>
<svg class="a" style="left:1749.6px;top:1661.2px" width="18" height="30" viewBox="0 0 18 30"><path d="M3.400 3.400L14.400 15L3.400 26.600" fill="none" stroke="#343741" stroke-width="2.700"/></svg>
<span class="t" style="top:1658px;font-size:33px;color:#343741;left:1789.0px;letter-spacing:0.63px;">Filebeat</span>
<span class="t" style="top:1658px;font-size:33px;color:#343741;left:2155.9px;">0</span>
<div class="a" style="left:2190px;top:1668.2px;width:400px;height:16px;border-radius:8px;background:#d3dae6;overflow:hidden"><div style="width:0px;height:16px;background:#0077cc"></div></div>
<svg class="a" style="left:1749.6px;top:1743.2px" width="18" height="30" viewBox="0 0 18 30"><path d="M3.400 3.400L14.400 15L3.400 26.600" fill="none" stroke="#343741" stroke-width="2.700"/></svg>
<span class="t" style="top:1740px;font-size:33px;color:#343741;left:1789.0px;letter-spacing:0.71px;">Packetbeat</span>
<span class="t" style="top:1740px;font-size:33px;color:#343741;left:2021.5px;letter-spacing:0.76px;">5,525,008</span>
<div class="a" style="left:2190px;top:1750.2px;width:400px;height:16px;border-radius:8px;background:#d3dae6;overflow:hidden"><div style="width:375px;height:16px;background:#0077cc"></div></div>
</div>
<div id="fade"></div><div id="frame"></div>
</body></html>
